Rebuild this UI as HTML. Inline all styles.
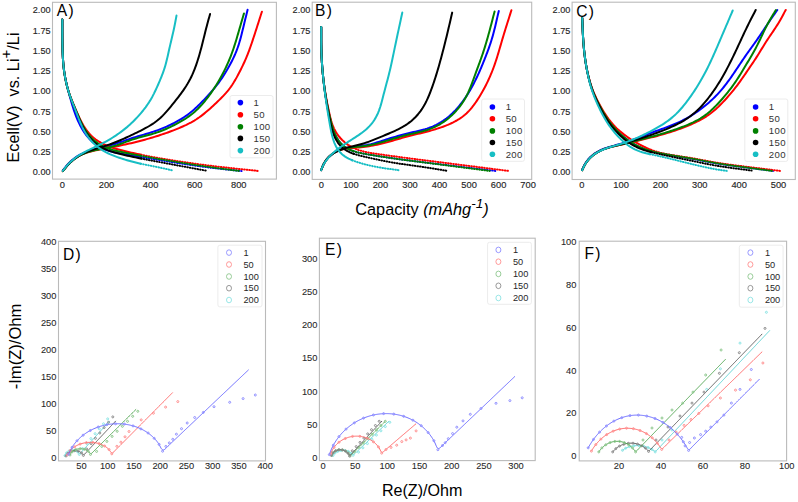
<!DOCTYPE html><html><head><meta charset="utf-8"><style>html,body{margin:0;padding:0;background:#fff;width:798px;height:502px;overflow:hidden}svg{display:block}</style></head><body>
<svg width="798" height="502" viewBox="0 0 798 502" font-family="&quot;Liberation Sans&quot;, sans-serif">
<rect x="52.5" y="2.3" width="223.9" height="176.8" fill="none" stroke="#bababa" stroke-width="1.1"/>
<rect x="312.2" y="2.2" width="219.5" height="177.2" fill="none" stroke="#bababa" stroke-width="1.1"/>
<rect x="572.1" y="2.2" width="223.2" height="177.3" fill="none" stroke="#bababa" stroke-width="1.1"/>
<text x="50.5" y="175.3" font-size="9.10" text-anchor="end" fill="#262626" stroke="#262626" stroke-width="0.15" >0.00</text>
<text x="50.5" y="155.0" font-size="9.10" text-anchor="end" fill="#262626" stroke="#262626" stroke-width="0.15" >0.25</text>
<text x="50.5" y="134.8" font-size="9.10" text-anchor="end" fill="#262626" stroke="#262626" stroke-width="0.15" >0.50</text>
<text x="50.5" y="114.5" font-size="9.10" text-anchor="end" fill="#262626" stroke="#262626" stroke-width="0.15" >0.75</text>
<text x="50.5" y="94.3" font-size="9.10" text-anchor="end" fill="#262626" stroke="#262626" stroke-width="0.15" >1.00</text>
<text x="50.5" y="74.0" font-size="9.10" text-anchor="end" fill="#262626" stroke="#262626" stroke-width="0.15" >1.25</text>
<text x="50.5" y="53.7" font-size="9.10" text-anchor="end" fill="#262626" stroke="#262626" stroke-width="0.15" >1.50</text>
<text x="50.5" y="33.5" font-size="9.10" text-anchor="end" fill="#262626" stroke="#262626" stroke-width="0.15" >1.75</text>
<text x="50.5" y="13.2" font-size="9.10" text-anchor="end" fill="#262626" stroke="#262626" stroke-width="0.15" >2.00</text>
<text x="310.3" y="175.3" font-size="9.10" text-anchor="end" fill="#262626" stroke="#262626" stroke-width="0.15" >0.00</text>
<text x="310.3" y="155.0" font-size="9.10" text-anchor="end" fill="#262626" stroke="#262626" stroke-width="0.15" >0.25</text>
<text x="310.3" y="134.8" font-size="9.10" text-anchor="end" fill="#262626" stroke="#262626" stroke-width="0.15" >0.50</text>
<text x="310.3" y="114.5" font-size="9.10" text-anchor="end" fill="#262626" stroke="#262626" stroke-width="0.15" >0.75</text>
<text x="310.3" y="94.3" font-size="9.10" text-anchor="end" fill="#262626" stroke="#262626" stroke-width="0.15" >1.00</text>
<text x="310.3" y="74.0" font-size="9.10" text-anchor="end" fill="#262626" stroke="#262626" stroke-width="0.15" >1.25</text>
<text x="310.3" y="53.7" font-size="9.10" text-anchor="end" fill="#262626" stroke="#262626" stroke-width="0.15" >1.50</text>
<text x="310.3" y="33.5" font-size="9.10" text-anchor="end" fill="#262626" stroke="#262626" stroke-width="0.15" >1.75</text>
<text x="310.3" y="13.2" font-size="9.10" text-anchor="end" fill="#262626" stroke="#262626" stroke-width="0.15" >2.00</text>
<text x="570.3" y="175.3" font-size="9.10" text-anchor="end" fill="#262626" stroke="#262626" stroke-width="0.15" >0.00</text>
<text x="570.3" y="155.0" font-size="9.10" text-anchor="end" fill="#262626" stroke="#262626" stroke-width="0.15" >0.25</text>
<text x="570.3" y="134.8" font-size="9.10" text-anchor="end" fill="#262626" stroke="#262626" stroke-width="0.15" >0.50</text>
<text x="570.3" y="114.5" font-size="9.10" text-anchor="end" fill="#262626" stroke="#262626" stroke-width="0.15" >0.75</text>
<text x="570.3" y="94.3" font-size="9.10" text-anchor="end" fill="#262626" stroke="#262626" stroke-width="0.15" >1.00</text>
<text x="570.3" y="74.0" font-size="9.10" text-anchor="end" fill="#262626" stroke="#262626" stroke-width="0.15" >1.25</text>
<text x="570.3" y="53.7" font-size="9.10" text-anchor="end" fill="#262626" stroke="#262626" stroke-width="0.15" >1.50</text>
<text x="570.3" y="33.5" font-size="9.10" text-anchor="end" fill="#262626" stroke="#262626" stroke-width="0.15" >1.75</text>
<text x="570.3" y="13.2" font-size="9.10" text-anchor="end" fill="#262626" stroke="#262626" stroke-width="0.15" >2.00</text>
<text x="62.4" y="188.2" font-size="9.30" text-anchor="middle" fill="#262626" stroke="#262626" stroke-width="0.15" >0</text>
<text x="106.5" y="188.2" font-size="9.30" text-anchor="middle" fill="#262626" stroke="#262626" stroke-width="0.15" >200</text>
<text x="150.6" y="188.2" font-size="9.30" text-anchor="middle" fill="#262626" stroke="#262626" stroke-width="0.15" >400</text>
<text x="194.7" y="188.2" font-size="9.30" text-anchor="middle" fill="#262626" stroke="#262626" stroke-width="0.15" >600</text>
<text x="238.8" y="188.2" font-size="9.30" text-anchor="middle" fill="#262626" stroke="#262626" stroke-width="0.15" >800</text>
<text x="321.3" y="188.2" font-size="9.30" text-anchor="middle" fill="#262626" stroke="#262626" stroke-width="0.15" >0</text>
<text x="350.9" y="188.2" font-size="9.30" text-anchor="middle" fill="#262626" stroke="#262626" stroke-width="0.15" >100</text>
<text x="380.4" y="188.2" font-size="9.30" text-anchor="middle" fill="#262626" stroke="#262626" stroke-width="0.15" >200</text>
<text x="410.0" y="188.2" font-size="9.30" text-anchor="middle" fill="#262626" stroke="#262626" stroke-width="0.15" >300</text>
<text x="439.5" y="188.2" font-size="9.30" text-anchor="middle" fill="#262626" stroke="#262626" stroke-width="0.15" >400</text>
<text x="469.1" y="188.2" font-size="9.30" text-anchor="middle" fill="#262626" stroke="#262626" stroke-width="0.15" >500</text>
<text x="498.6" y="188.2" font-size="9.30" text-anchor="middle" fill="#262626" stroke="#262626" stroke-width="0.15" >600</text>
<text x="528.1" y="188.2" font-size="9.30" text-anchor="middle" fill="#262626" stroke="#262626" stroke-width="0.15" >700</text>
<text x="581.8" y="188.2" font-size="9.30" text-anchor="middle" fill="#262626" stroke="#262626" stroke-width="0.15" >0</text>
<text x="621.1" y="188.2" font-size="9.30" text-anchor="middle" fill="#262626" stroke="#262626" stroke-width="0.15" >100</text>
<text x="660.5" y="188.2" font-size="9.30" text-anchor="middle" fill="#262626" stroke="#262626" stroke-width="0.15" >200</text>
<text x="699.8" y="188.2" font-size="9.30" text-anchor="middle" fill="#262626" stroke="#262626" stroke-width="0.15" >300</text>
<text x="739.2" y="188.2" font-size="9.30" text-anchor="middle" fill="#262626" stroke="#262626" stroke-width="0.15" >400</text>
<text x="778.5" y="188.2" font-size="9.30" text-anchor="middle" fill="#262626" stroke="#262626" stroke-width="0.15" >500</text>
<path d="M62.30,19.50 L62.32,21.51 L62.31,23.52 L62.31,25.53 L62.31,27.54 L62.31,29.55 L62.32,31.56 L62.33,33.57 L62.34,35.58 L62.35,37.59 L62.37,39.60 L62.40,41.61 L62.43,43.61 L62.47,45.62 L62.51,47.63 L62.56,49.64 L62.62,51.65 L62.70,53.66 L62.78,55.67 L62.88,57.68 L63.00,59.68 L63.14,61.69 L63.30,63.69 L63.48,65.69 L63.70,67.68 L63.94,69.68 L64.22,71.66 L64.52,73.65 L64.86,75.63 L65.22,77.60 L65.62,79.57 L66.03,81.54 L66.48,83.49 L66.94,85.45 L67.42,87.40 L67.91,89.35 L68.41,91.30 L68.93,93.24 L69.45,95.18 L69.99,97.12 L70.53,99.06 L71.08,100.99 L71.64,102.93 L72.21,104.85 L72.80,106.77 L73.41,108.69 L74.05,110.60 L74.70,112.50 L75.39,114.39 L76.11,116.27 L76.85,118.14 L77.64,119.99 L78.46,121.83 L79.32,123.64 L80.22,125.44 L81.17,127.22 L82.16,128.97 L83.20,130.69 L84.30,132.38 L85.45,134.03 L86.65,135.64 L87.91,137.20 L89.23,138.71 L90.62,140.15 L92.06,141.53 L93.56,142.84 L95.13,144.08 L96.75,145.23 L98.42,146.30 L100.15,147.28 L101.93,148.18 L103.75,148.99 L105.60,149.73 L107.49,150.39 L109.40,150.99 L111.34,151.53 L113.29,152.02 L115.26,152.48 L117.23,152.90 L119.21,153.29 L121.19,153.67 L123.17,154.03 L125.16,154.38 L127.14,154.72 L129.13,155.06 L131.11,155.39 L133.10,155.72 L135.08,156.05 L137.06,156.38 L139.04,156.71 L141.03,157.04" fill="none" stroke="#0000ff" stroke-width="2.00" stroke-linecap="round" stroke-linejoin="round"/>
<path d="M141.03,157.04 L143.01,157.37 L144.99,157.70 L146.97,158.03 L148.96,158.36 L150.94,158.68 L152.92,159.01 L154.90,159.34 L156.89,159.66 L158.87,159.99 L160.85,160.31 L162.84,160.63 L164.82,160.95 L166.80,161.27 L168.79,161.59 L170.77,161.91 L172.76,162.22 L174.74,162.53 L176.73,162.85 L178.71,163.16 L180.70,163.46 L182.68,163.77 L184.67,164.07 L186.66,164.37 L188.65,164.67 L190.63,164.96 L192.62,165.25 L194.61,165.54 L196.60,165.82 L198.59,166.10 L200.58,166.37 L202.57,166.63 L204.57,166.90 L206.56,167.15 L208.55,167.40 L210.55,167.65 L212.54,167.89 L214.54,168.12 L216.53,168.36 L218.53,168.58 L220.53,168.81 L222.52,169.03 L224.52,169.25 L226.52,169.47 L228.52,169.68 L230.51,169.90 L232.51,170.11 L234.51,170.33 L236.51,170.54 L238.51,170.76 L241.50,171.10" fill="none" stroke="#0000ff" stroke-width="2.0" stroke-linecap="round" stroke-dasharray="0.6,2.0"/>
<path d="M62.80,170.50 L64.05,168.95 L65.28,167.30 L66.57,165.71 L67.91,164.18 L69.30,162.71 L70.75,161.31 L72.26,159.98 L73.81,158.72 L75.42,157.54 L77.08,156.43 L78.78,155.40 L80.53,154.44 L82.31,153.56 L84.14,152.74 L85.99,152.00 L87.87,151.31 L89.78,150.68 L91.71,150.10 L93.65,149.57 L95.61,149.07 L97.57,148.59 L99.54,148.12 L101.50,147.65 L103.47,147.18 L105.42,146.69 L107.38,146.19 L109.32,145.66 L111.26,145.11 L113.19,144.53 L115.11,143.93 L117.02,143.31 L118.93,142.67 L120.83,142.01 L122.73,141.34 L124.63,140.67 L126.53,140.01 L128.43,139.35 L130.34,138.70 L132.25,138.07 L134.17,137.46 L136.10,136.87 L138.02,136.28 L139.96,135.72 L141.89,135.15 L143.83,134.60 L145.76,134.04 L147.70,133.47 L149.62,132.89 L151.55,132.29 L153.46,131.67 L155.37,131.03 L157.27,130.36 L159.16,129.66 L161.04,128.94 L162.91,128.19 L164.77,127.41 L166.61,126.60 L168.45,125.77 L170.27,124.91 L172.08,124.02 L173.88,123.10 L175.66,122.16 L177.42,121.19 L179.17,120.19 L180.90,119.16 L182.61,118.09 L184.30,116.99 L185.96,115.86 L187.60,114.69 L189.21,113.49 L190.79,112.25 L192.35,110.98 L193.88,109.67 L195.38,108.33 L196.86,106.97 L198.32,105.57 L199.75,104.16 L201.17,102.73 L202.57,101.28 L203.96,99.82 L205.34,98.35 L206.71,96.87 L208.07,95.38 L209.42,93.88 L210.76,92.37 L212.08,90.85 L213.39,89.32 L214.68,87.77 L215.95,86.21 L217.20,84.63 L218.42,83.03 L219.61,81.41 L220.78,79.77 L221.92,78.11 L223.03,76.43 L224.12,74.74 L225.19,73.03 L226.23,71.31 L227.26,69.57 L228.26,67.82 L229.24,66.06 L230.21,64.29 L231.15,62.50 L232.07,60.71 L232.96,58.90 L233.82,57.08 L234.66,55.25 L235.46,53.41 L236.22,51.55 L236.95,49.67 L237.64,47.78 L238.29,45.88 L238.91,43.97 L239.49,42.04 L240.05,40.11 L240.59,38.17 L241.11,36.22 L241.61,34.27 L242.09,32.31 L242.57,30.36 L243.05,28.40 L243.52,26.44 L243.99,24.48 L244.46,22.52 L244.94,20.56 L245.42,18.60 L245.90,16.64 L246.39,14.69 L246.87,12.73 L247.60,9.80" fill="none" stroke="#0000ff" stroke-width="2.00" stroke-linecap="round" stroke-linejoin="round" opacity="1"/>
<path d="M62.30,19.50 L62.32,21.51 L62.31,23.52 L62.31,25.53 L62.31,27.54 L62.31,29.55 L62.32,31.56 L62.33,33.57 L62.34,35.58 L62.35,37.59 L62.37,39.60 L62.40,41.61 L62.43,43.62 L62.47,45.63 L62.51,47.64 L62.56,49.65 L62.62,51.66 L62.70,53.67 L62.78,55.68 L62.88,57.68 L63.00,59.69 L63.14,61.69 L63.30,63.70 L63.48,65.70 L63.69,67.70 L63.93,69.69 L64.19,71.68 L64.48,73.67 L64.80,75.66 L65.15,77.64 L65.53,79.61 L65.94,81.58 L66.38,83.54 L66.86,85.49 L67.37,87.43 L67.93,89.36 L68.51,91.27 L69.14,93.18 L69.80,95.07 L70.50,96.95 L71.22,98.82 L71.97,100.69 L72.74,102.55 L73.53,104.40 L74.32,106.25 L75.12,108.10 L75.92,109.94 L76.73,111.79 L77.55,113.63 L78.38,115.47 L79.22,117.30 L80.09,119.12 L80.98,120.92 L81.91,122.71 L82.88,124.47 L83.90,126.21 L84.97,127.90 L86.10,129.56 L87.29,131.17 L88.55,132.72 L89.87,134.22 L91.25,135.65 L92.70,137.01 L94.22,138.30 L95.79,139.51 L97.42,140.65 L99.11,141.72 L100.84,142.72 L102.61,143.65 L104.42,144.52 L106.26,145.33 L108.13,146.08 L110.01,146.79 L111.91,147.45 L113.83,148.08 L115.76,148.67 L117.69,149.23 L119.63,149.76 L121.58,150.28 L123.53,150.77 L125.49,151.25 L127.44,151.72 L129.40,152.17 L131.37,152.62 L133.33,153.06 L135.29,153.49 L137.26,153.92 L139.22,154.33 L141.19,154.74" fill="none" stroke="#ff0000" stroke-width="2.00" stroke-linecap="round" stroke-linejoin="round"/>
<path d="M141.19,154.74 L143.16,155.15 L145.13,155.54 L147.10,155.93 L149.08,156.32 L151.05,156.69 L153.03,157.06 L155.00,157.42 L156.98,157.77 L158.96,158.12 L160.94,158.46 L162.92,158.80 L164.91,159.13 L166.89,159.45 L168.87,159.77 L170.86,160.09 L172.84,160.40 L174.83,160.71 L176.82,161.02 L178.80,161.32 L180.79,161.62 L182.78,161.92 L184.77,162.21 L186.75,162.51 L188.74,162.80 L190.73,163.09 L192.72,163.38 L194.71,163.66 L196.70,163.94 L198.69,164.22 L200.68,164.49 L202.67,164.76 L204.67,165.02 L206.66,165.28 L208.65,165.53 L210.65,165.78 L212.64,166.02 L214.64,166.26 L216.64,166.49 L218.63,166.72 L220.63,166.94 L222.63,167.16 L224.63,167.38 L226.62,167.60 L228.62,167.82 L230.62,168.03 L232.62,168.24 L234.62,168.46 L236.62,168.67 L238.61,168.88 L240.61,169.09 L242.61,169.30 L244.61,169.51 L246.61,169.72 L248.61,169.93 L250.61,170.14 L252.61,170.36 L254.60,170.57 L256.60,170.78 L259.60,171.10" fill="none" stroke="#ff0000" stroke-width="2.0" stroke-linecap="round" stroke-dasharray="0.6,2.0"/>
<path d="M62.80,171.20 L64.06,169.66 L65.30,168.03 L66.58,166.44 L67.92,164.92 L69.32,163.45 L70.77,162.05 L72.27,160.72 L73.83,159.46 L75.43,158.28 L77.09,157.18 L78.79,156.16 L80.54,155.22 L82.33,154.36 L84.15,153.58 L86.01,152.88 L87.90,152.24 L89.81,151.68 L91.75,151.17 L93.71,150.71 L95.68,150.30 L97.66,149.91 L99.64,149.55 L101.62,149.19 L103.61,148.84 L105.59,148.48 L107.57,148.12 L109.54,147.75 L111.52,147.36 L113.49,146.97 L115.46,146.56 L117.42,146.15 L119.39,145.74 L121.35,145.32 L123.32,144.89 L125.28,144.47 L127.24,144.03 L129.20,143.59 L131.16,143.15 L133.12,142.69 L135.07,142.22 L137.02,141.74 L138.97,141.24 L140.91,140.74 L142.85,140.22 L144.79,139.69 L146.73,139.15 L148.66,138.60 L150.59,138.04 L152.51,137.47 L154.44,136.88 L156.36,136.29 L158.27,135.68 L160.18,135.06 L162.09,134.42 L163.99,133.78 L165.89,133.11 L167.78,132.44 L169.67,131.75 L171.55,131.04 L173.43,130.32 L175.30,129.59 L177.17,128.84 L179.03,128.07 L180.88,127.29 L182.72,126.48 L184.55,125.65 L186.37,124.80 L189.07,123.46 L190.84,122.53 L192.60,121.55 L194.33,120.54 L196.03,119.49 L197.71,118.39 L199.36,117.26 L200.98,116.08 L202.58,114.87 L204.15,113.63 L205.70,112.35 L207.24,111.05 L208.75,109.73 L210.26,108.40 L211.75,107.05 L213.24,105.69 L214.71,104.32 L216.18,102.94 L217.64,101.55 L219.09,100.15 L220.52,98.74 L221.94,97.32 L223.34,95.87 L224.70,94.40 L226.04,92.91 L227.34,91.39 L228.60,89.83 L229.81,88.24 L230.99,86.63 L232.12,84.98 L233.21,83.30 L234.26,81.59 L235.29,79.87 L236.28,78.12 L237.25,76.36 L238.20,74.59 L239.13,72.80 L240.05,71.01 L240.95,69.22 L241.84,67.41 L242.72,65.60 L243.57,63.78 L244.41,61.96 L245.23,60.12 L246.03,58.28 L246.81,56.43 L247.56,54.57 L248.29,52.70 L249.01,50.82 L249.70,48.93 L250.37,47.04 L251.03,45.14 L251.69,43.24 L252.33,41.34 L252.96,39.43 L253.59,37.52 L254.22,35.61 L254.84,33.70 L255.46,31.79 L256.08,29.88 L256.70,27.97 L257.31,26.05 L257.93,24.14 L258.54,22.23 L259.15,20.31 L259.77,18.40 L260.37,16.49 L260.98,14.57 L261.90,11.70" fill="none" stroke="#ff0000" stroke-width="2.00" stroke-linecap="round" stroke-linejoin="round" opacity="1"/>
<path d="M62.30,19.50 L62.32,21.51 L62.31,23.52 L62.31,25.53 L62.31,27.54 L62.31,29.55 L62.32,31.56 L62.33,33.57 L62.34,35.58 L62.35,37.59 L62.37,39.61 L62.40,41.62 L62.43,43.63 L62.47,45.64 L62.51,47.65 L62.56,49.66 L62.62,51.67 L62.70,53.68 L62.78,55.69 L62.88,57.69 L63.00,59.70 L63.14,61.71 L63.30,63.71 L63.48,65.71 L63.69,67.71 L63.93,69.71 L64.19,71.70 L64.49,73.69 L64.81,75.67 L65.16,77.65 L65.54,79.62 L65.95,81.59 L66.40,83.55 L66.87,85.50 L67.38,87.45 L67.93,89.38 L68.51,91.30 L69.13,93.21 L69.78,95.11 L70.46,97.00 L71.17,98.87 L71.90,100.75 L72.65,102.61 L73.41,104.47 L74.19,106.33 L74.96,108.19 L75.75,110.04 L76.53,111.90 L77.32,113.75 L78.11,115.60 L78.92,117.45 L79.74,119.29 L80.59,121.11 L81.47,122.93 L82.38,124.72 L83.33,126.49 L84.34,128.23 L85.39,129.95 L86.50,131.62 L87.67,133.26 L88.89,134.85 L90.18,136.38 L91.53,137.86 L92.94,139.28 L94.41,140.63 L95.95,141.90 L97.54,143.09 L99.19,144.20 L100.90,145.22 L103.55,146.60 L105.37,147.41 L107.22,148.15 L109.11,148.81 L111.03,149.42 L112.96,149.98 L114.91,150.49 L116.87,150.97 L118.84,151.42 L120.81,151.85 L122.78,152.27 L124.76,152.68 L126.73,153.08 L128.71,153.47 L130.68,153.86 L132.66,154.25 L134.63,154.63 L136.61,155.01 L138.59,155.38 L140.56,155.74" fill="none" stroke="#008000" stroke-width="2.00" stroke-linecap="round" stroke-linejoin="round"/>
<path d="M140.56,155.74 L142.54,156.10 L144.52,156.46 L146.50,156.82 L148.48,157.17 L150.46,157.52 L152.44,157.86 L154.42,158.21 L156.40,158.55 L158.38,158.89 L160.36,159.23 L162.34,159.57 L164.33,159.91 L166.31,160.24 L168.29,160.58 L170.27,160.91 L172.26,161.24 L174.24,161.57 L176.22,161.90 L178.21,162.23 L180.19,162.56 L182.17,162.88 L184.16,163.20 L186.14,163.53 L188.13,163.84 L190.11,164.16 L192.10,164.48 L194.08,164.79 L196.07,165.09 L198.06,165.40 L200.05,165.70 L202.03,165.99 L204.02,166.29 L206.01,166.57 L208.00,166.86 L209.99,167.13 L211.99,167.41 L213.98,167.68 L215.97,167.95 L217.96,168.21 L219.96,168.47 L221.95,168.73 L223.94,168.99 L225.94,169.24 L227.93,169.49 L229.93,169.75 L231.92,170.00 L233.92,170.25 L235.91,170.51 L238.90,170.90" fill="none" stroke="#008000" stroke-width="2.0" stroke-linecap="round" stroke-dasharray="0.6,2.0"/>
<path d="M62.80,171.20 L64.06,169.66 L65.29,168.03 L66.58,166.45 L67.93,164.93 L69.32,163.47 L70.77,162.07 L72.27,160.74 L73.83,159.49 L75.43,158.30 L77.08,157.19 L78.78,156.16 L80.52,155.21 L82.30,154.33 L84.11,153.52 L85.97,152.80 L87.85,152.13 L89.75,151.54 L91.68,151.00 L93.63,150.52 L95.60,150.09 L97.57,149.68 L99.55,149.29 L101.53,148.91 L103.50,148.53 L105.48,148.13 L107.44,147.71 L109.40,147.26 L111.34,146.78 L113.27,146.25 L115.19,145.69 L117.10,145.08 L119.00,144.44 L120.88,143.77 L122.76,143.08 L124.64,142.37 L126.51,141.67 L128.39,140.98 L130.28,140.30 L132.17,139.65 L134.07,139.03 L135.99,138.43 L137.91,137.87 L139.84,137.33 L141.78,136.81 L143.72,136.30 L145.67,135.79 L147.61,135.28 L149.55,134.76 L151.48,134.21 L153.40,133.64 L155.32,133.04 L157.22,132.41 L159.11,131.74 L160.99,131.03 L162.85,130.29 L164.70,129.52 L166.54,128.72 L168.37,127.89 L170.19,127.04 L172.00,126.16 L173.80,125.26 L175.59,124.34 L177.36,123.39 L180.00,121.94 L181.75,120.93 L183.47,119.90 L185.17,118.84 L186.85,117.74 L188.50,116.60 L190.12,115.43 L191.71,114.21 L193.27,112.95 L194.79,111.65 L196.28,110.31 L197.73,108.93 L199.15,107.51 L200.53,106.06 L201.89,104.58 L203.21,103.07 L204.50,101.53 L205.77,99.97 L207.01,98.39 L208.23,96.79 L209.43,95.18 L210.60,93.55 L211.75,91.90 L212.89,90.24 L214.00,88.57 L215.09,86.88 L216.17,85.19 L217.22,83.48 L218.26,81.76 L219.28,80.02 L220.27,78.28 L221.25,76.53 L222.20,74.76 L223.13,72.98 L224.05,71.19 L224.94,69.39 L225.81,67.58 L226.66,65.76 L227.49,63.94 L228.30,62.10 L229.09,60.25 L229.86,58.40 L230.60,56.53 L231.33,54.66 L232.02,52.78 L232.70,50.89 L233.36,48.99 L233.99,47.09 L234.61,45.18 L235.22,43.27 L235.81,41.35 L236.39,39.42 L236.96,37.50 L237.53,35.57 L238.09,33.64 L238.65,31.71 L239.21,29.78 L239.77,27.86 L240.33,25.93 L240.89,24.00 L241.45,22.07 L242.02,20.14 L242.58,18.22 L243.15,16.29 L244.00,13.40" fill="none" stroke="#008000" stroke-width="2.00" stroke-linecap="round" stroke-linejoin="round" opacity="1"/>
<path d="M62.30,19.50 L62.32,21.52 L62.31,23.53 L62.31,25.55 L62.31,27.57 L62.31,29.58 L62.32,31.60 L62.33,33.62 L62.34,35.63 L62.35,37.65 L62.37,39.66 L62.40,41.68 L62.43,43.70 L62.47,45.71 L62.51,47.73 L62.57,49.75 L62.63,51.76 L62.70,53.78 L62.79,55.79 L62.89,57.81 L63.01,59.82 L63.15,61.83 L63.31,63.84 L63.50,65.85 L63.71,67.85 L63.95,69.85 L64.22,71.85 L64.52,73.84 L64.85,75.83 L65.21,77.82 L65.59,79.79 L66.01,81.77 L66.45,83.73 L66.93,85.69 L67.44,87.64 L67.97,89.58 L68.55,91.52 L69.15,93.44 L69.78,95.35 L70.44,97.25 L71.13,99.14 L71.85,101.03 L72.58,102.91 L73.32,104.78 L74.08,106.65 L74.84,108.52 L75.61,110.39 L76.38,112.26 L77.15,114.12 L77.92,115.99 L78.71,117.85 L79.50,119.71 L80.31,121.56 L81.15,123.40 L82.02,125.23 L82.92,127.03 L83.87,128.82 L84.86,130.57 L85.91,132.29 L87.01,133.98 L88.18,135.61 L90.06,137.97 L91.39,139.46 L92.79,140.89 L94.25,142.25 L95.78,143.54 L97.38,144.74 L99.03,145.86 L100.73,146.91 L102.48,147.87 L104.28,148.76 L106.12,149.57 L107.99,150.32 L109.88,151.00 L111.80,151.64 L113.73,152.23 L115.68,152.78 L117.63,153.31 L119.59,153.81 L121.56,154.29 L123.52,154.76 L125.49,155.22 L127.46,155.66 L129.43,156.10 L131.41,156.53 L133.38,156.96 L135.35,157.38 L137.33,157.79 L139.30,158.20 L141.28,158.60" fill="none" stroke="#000000" stroke-width="2.00" stroke-linecap="round" stroke-linejoin="round"/>
<path d="M141.28,158.60 L143.25,158.99 L145.23,159.38 L147.21,159.76 L149.19,160.14 L151.17,160.52 L153.16,160.89 L155.14,161.26 L157.12,161.63 L159.10,161.99 L161.09,162.36 L163.07,162.72 L165.05,163.09 L167.04,163.46 L169.02,163.82 L171.00,164.19 L172.98,164.56 L174.97,164.93 L176.95,165.30 L178.93,165.66 L180.91,166.03 L182.90,166.40 L184.88,166.77 L186.86,167.13 L188.84,167.50 L190.83,167.86 L192.81,168.23 L194.79,168.59 L196.78,168.96 L198.76,169.32 L200.74,169.69 L202.73,170.05 L205.70,170.60" fill="none" stroke="#000000" stroke-width="2.0" stroke-linecap="round" stroke-dasharray="0.6,2.0"/>
<path d="M62.80,170.90 L64.10,169.38 L65.38,167.78 L66.70,166.23 L68.07,164.72 L69.49,163.27 L70.95,161.88 L72.46,160.55 L74.02,159.28 L75.62,158.08 L77.27,156.94 L78.95,155.87 L80.68,154.86 L82.45,153.93 L84.25,153.05 L86.08,152.24 L87.93,151.48 L89.82,150.76 L91.72,150.10 L93.64,149.47 L95.57,148.87 L97.50,148.28 L99.44,147.70 L101.37,147.11 L103.30,146.52 L105.23,145.91 L107.15,145.28 L109.05,144.63 L110.95,143.95 L112.84,143.25 L114.72,142.52 L116.59,141.77 L118.46,141.00 L120.31,140.21 L122.16,139.41 L124.01,138.59 L125.84,137.76 L127.68,136.91 L129.51,136.06 L131.34,135.20 L133.16,134.34 L134.98,133.46 L136.80,132.58 L138.61,131.68 L140.42,130.78 L142.22,129.87 L144.01,128.93 L145.79,127.98 L147.56,127.00 L149.30,125.99 L151.02,124.95 L152.71,123.86 L154.37,122.73 L155.99,121.55 L157.57,120.31 L159.10,119.03 L160.60,117.69 L162.76,115.60 L164.16,114.16 L165.53,112.68 L166.88,111.17 L168.20,109.65 L169.50,108.10 L170.79,106.55 L172.07,104.98 L173.34,103.41 L174.60,101.83 L175.86,100.24 L177.11,98.65 L178.34,97.06 L179.57,95.45 L180.78,93.83 L181.97,92.20 L183.14,90.56 L184.28,88.90 L185.40,87.22 L186.49,85.53 L187.54,83.81 L188.55,82.07 L189.52,80.31 L190.46,78.53 L191.35,76.72 L192.20,74.90 L193.01,73.06 L193.79,71.20 L194.54,69.32 L195.25,67.44 L195.94,65.54 L196.60,63.63 L197.24,61.72 L197.86,59.80 L198.46,57.87 L199.04,55.94 L199.60,54.00 L200.15,52.06 L200.68,50.11 L201.20,48.16 L201.71,46.21 L202.21,44.25 L202.70,42.30 L203.19,40.34 L203.67,38.38 L204.16,36.42 L204.64,34.46 L205.12,32.50 L205.61,30.55 L206.11,28.59 L206.61,26.64 L207.13,24.69 L207.65,22.74 L208.18,20.80 L208.73,18.85 L209.28,16.91 L210.10,14.00" fill="none" stroke="#000000" stroke-width="2.00" stroke-linecap="round" stroke-linejoin="round" opacity="1"/>
<path d="M62.30,19.50 L62.32,21.52 L62.31,23.54 L62.31,25.55 L62.31,27.57 L62.31,29.59 L62.32,31.61 L62.33,33.62 L62.34,35.64 L62.35,37.66 L62.37,39.68 L62.40,41.69 L62.43,43.71 L62.47,45.73 L62.51,47.75 L62.57,49.77 L62.63,51.78 L62.70,53.80 L62.79,55.81 L62.89,57.83 L63.01,59.84 L63.15,61.86 L63.31,63.87 L63.50,65.87 L63.71,67.88 L63.96,69.88 L64.23,71.88 L64.53,73.87 L64.85,75.86 L65.21,77.85 L65.60,79.83 L66.02,81.80 L66.46,83.77 L66.94,85.73 L67.45,87.68 L67.99,89.62 L68.57,91.55 L69.18,93.47 L69.81,95.39 L70.48,97.29 L71.17,99.18 L71.88,101.07 L72.60,102.95 L73.33,104.83 L74.07,106.71 L74.81,108.59 L75.54,110.47 L76.27,112.35 L77.00,114.23 L77.73,116.12 L78.46,118.00 L79.21,119.88 L79.97,121.75 L81.17,124.53 L82.01,126.36 L82.90,128.18 L83.83,129.96 L84.81,131.72 L85.84,133.45 L86.93,135.15 L88.08,136.80 L89.29,138.41 L90.55,139.97 L91.88,141.48 L93.26,142.94 L94.71,144.33 L96.20,145.67 L97.76,146.94 L99.36,148.15 L101.01,149.30 L102.70,150.38 L104.43,151.40 L106.20,152.35 L108.01,153.25 L109.83,154.10 L111.69,154.90 L113.56,155.66 L115.45,156.38 L117.35,157.07 L119.26,157.74 L121.18,158.38 L123.10,159.00 L125.03,159.60 L126.96,160.18 L128.90,160.75 L130.85,161.29 L132.80,161.81 L134.75,162.31 L136.71,162.79 L138.67,163.25 L140.64,163.69" fill="none" stroke="#17bec4" stroke-width="2.00" stroke-linecap="round" stroke-linejoin="round"/>
<path d="M140.64,163.69 L142.61,164.11 L144.58,164.53 L146.56,164.93 L148.54,165.32 L150.52,165.71 L152.50,166.10 L154.48,166.50 L156.46,166.89 L158.43,167.30 L160.41,167.71 L162.38,168.14 L164.35,168.57 L166.32,169.01 L168.29,169.47 L170.25,169.93 L173.20,170.60" fill="none" stroke="#17bec4" stroke-width="2.0" stroke-linecap="round" stroke-dasharray="0.6,2.0"/>
<path d="M62.80,170.90 L64.04,169.33 L65.27,167.70 L66.55,166.13 L67.89,164.62 L69.28,163.16 L70.72,161.76 L72.21,160.43 L73.75,159.14 L75.33,157.92 L76.95,156.75 L78.61,155.63 L80.30,154.56 L82.02,153.54 L83.77,152.55 L85.54,151.60 L87.33,150.68 L89.13,149.78 L90.95,148.90 L92.77,148.04 L94.60,147.18 L96.42,146.31 L98.23,145.44 L100.04,144.55 L101.84,143.65 L103.63,142.72 L105.41,141.77 L107.17,140.80 L108.91,139.80 L110.65,138.78 L112.36,137.73 L114.07,136.65 L115.75,135.55 L117.42,134.42 L119.07,133.27 L120.71,132.09 L122.32,130.89 L123.91,129.66 L125.48,128.40 L127.03,127.12 L128.55,125.80 L130.05,124.46 L131.52,123.09 L132.97,121.69 L134.39,120.27 L135.80,118.82 L137.18,117.35 L138.53,115.86 L139.87,114.35 L141.18,112.82 L143.10,110.49 L144.34,108.90 L145.56,107.30 L146.74,105.67 L147.88,104.02 L148.99,102.34 L150.06,100.64 L151.08,98.92 L152.07,97.17 L153.02,95.40 L153.94,93.61 L154.82,91.80 L155.69,89.98 L156.53,88.15 L157.35,86.32 L158.17,84.47 L158.97,82.62 L159.76,80.77 L160.54,78.91 L161.30,77.04 L162.04,75.17 L162.75,73.29 L163.44,71.40 L164.09,69.50 L164.70,67.59 L165.28,65.67 L165.82,63.74 L166.33,61.80 L166.82,59.84 L167.28,57.89 L167.73,55.93 L168.17,53.96 L168.60,51.99 L169.04,50.03 L169.49,48.06 L169.94,46.10 L170.40,44.14 L170.86,42.18 L171.32,40.22 L171.78,38.26 L172.24,36.30 L172.70,34.34 L173.15,32.38 L173.58,30.42 L174.01,28.45 L174.42,26.48 L174.82,24.50 L175.21,22.53 L175.58,20.55 L175.94,18.57 L176.50,15.60" fill="none" stroke="#17bec4" stroke-width="2.00" stroke-linecap="round" stroke-linejoin="round" opacity="1"/>
<path d="M321.20,27.00 L321.23,29.01 L321.23,31.02 L321.23,33.03 L321.23,35.03 L321.23,37.04 L321.23,39.05 L321.24,41.06 L321.25,43.07 L321.28,45.08 L321.31,47.09 L321.35,49.09 L321.40,51.10 L321.46,53.11 L321.53,55.12 L321.62,57.12 L321.72,59.13 L321.83,61.13 L321.95,63.14 L322.09,65.14 L322.24,67.14 L322.40,69.15 L322.57,71.15 L322.76,73.15 L322.95,75.15 L323.15,77.15 L323.37,79.14 L323.59,81.14 L323.82,83.13 L324.07,85.13 L324.32,87.12 L324.59,89.11 L324.87,91.10 L325.16,93.09 L325.46,95.07 L325.78,97.05 L326.12,99.03 L326.47,101.01 L326.83,102.99 L327.21,104.96 L327.60,106.93 L328.00,108.90 L328.42,110.87 L328.84,112.84 L329.28,114.80 L329.72,116.77 L330.18,118.73 L330.66,120.69 L331.16,122.65 L331.68,124.61 L332.24,126.56 L332.84,128.49 L333.48,130.41 L334.18,132.30 L334.95,134.16 L335.80,135.98 L336.73,137.74 L337.75,139.44 L338.87,141.06 L340.09,142.59 L341.42,144.02 L342.84,145.35 L344.36,146.56 L345.98,147.67 L347.67,148.66 L349.44,149.55 L351.26,150.34 L353.14,151.03" fill="none" stroke="#0000ff" stroke-width="2.00" stroke-linecap="round" stroke-linejoin="round"/>
<path d="M353.14,151.03 L355.05,151.65 L356.99,152.20 L358.95,152.69 L360.93,153.13 L362.91,153.53 L364.90,153.91 L366.90,154.26 L368.89,154.60 L370.88,154.93 L372.87,155.25 L374.85,155.57 L376.84,155.89 L378.83,156.20 L380.81,156.52 L382.80,156.82 L384.78,157.13 L386.77,157.43 L388.76,157.72 L390.75,158.01 L392.73,158.30 L394.72,158.58 L396.71,158.86 L398.70,159.13 L400.69,159.40 L402.68,159.66 L404.67,159.92 L406.67,160.18 L408.66,160.43 L410.65,160.69 L412.64,160.94 L414.64,161.19 L416.63,161.43 L418.62,161.68 L420.62,161.93 L422.61,162.17 L424.60,162.42 L426.60,162.66 L428.59,162.91 L430.59,163.15 L432.58,163.39 L434.57,163.64 L436.57,163.88 L438.56,164.13 L440.55,164.37 L442.55,164.61 L444.54,164.85 L446.53,165.10 L448.53,165.34 L450.52,165.58 L452.52,165.82 L454.51,166.06 L456.51,166.30 L458.50,166.53 L460.49,166.77 L462.49,167.01 L464.48,167.25 L466.48,167.48 L468.47,167.72 L470.47,167.95 L472.46,168.19 L474.46,168.42 L476.45,168.66 L478.45,168.90 L480.44,169.13 L482.44,169.37 L484.43,169.60 L486.42,169.84 L488.42,170.07 L490.41,170.31 L492.41,170.54 L495.40,170.90" fill="none" stroke="#0000ff" stroke-width="2.0" stroke-linecap="round" stroke-dasharray="0.6,2.0"/>
<path d="M321.10,170.20 L321.87,168.39 L322.61,166.41 L323.47,164.52 L324.44,162.72 L325.51,161.01 L326.69,159.40 L327.98,157.89 L329.36,156.48 L330.83,155.18 L332.38,153.98 L334.01,152.88 L335.70,151.89 L337.46,150.99 L339.27,150.19 L341.13,149.49 L343.02,148.87 L344.94,148.34 L346.90,147.88 L348.88,147.50 L350.88,147.17 L352.88,146.88 L354.88,146.63 L356.89,146.38 L358.89,146.14 L360.89,145.89 L362.89,145.61 L364.87,145.30 L366.85,144.96 L368.82,144.56 L370.77,144.13 L372.72,143.65 L374.66,143.13 L376.59,142.57 L378.51,141.99 L380.43,141.39 L382.34,140.77 L384.26,140.15 L386.17,139.53 L388.09,138.92 L390.01,138.32 L391.93,137.73 L393.86,137.16 L395.79,136.59 L397.72,136.04 L399.66,135.51 L401.60,134.98 L403.54,134.47 L405.49,133.96 L407.44,133.47 L409.39,132.99 L411.35,132.53 L413.31,132.07 L415.27,131.62 L417.23,131.17 L419.19,130.72 L421.14,130.24 L423.09,129.74 L425.02,129.21 L426.94,128.63 L428.84,127.99 L430.72,127.30 L432.57,126.56 L434.40,125.75 L436.20,124.87 L437.98,123.94 L439.72,122.95 L441.43,121.90 L443.11,120.80 L444.76,119.64 L446.37,118.44 L447.94,117.19 L449.48,115.89 L450.98,114.56 L452.45,113.19 L453.88,111.77 L455.28,110.33 L456.65,108.85 L457.98,107.35 L459.29,105.81 L460.56,104.25 L461.80,102.67 L463.01,101.06 L464.18,99.43 L465.33,97.78 L466.45,96.11 L467.54,94.42 L468.60,92.71 L469.64,90.98 L470.65,89.24 L471.63,87.49 L472.59,85.72 L473.54,83.94 L474.46,82.15 L475.36,80.36 L476.24,78.55 L477.11,76.73 L477.96,74.91 L478.79,73.08 L479.61,71.24 L480.41,69.40 L481.20,67.55 L481.98,65.69 L482.75,63.83 L483.51,61.97 L484.26,60.10 L485.00,58.23 L485.74,56.36 L486.46,54.48 L487.18,52.60 L487.88,50.72 L488.57,48.83 L489.24,46.93 L489.89,45.03 L490.53,43.12 L491.14,41.21 L491.73,39.29 L492.31,37.36 L492.86,35.43 L493.39,33.49 L493.91,31.55 L494.41,29.60 L494.89,27.65 L495.37,25.69 L495.83,23.74 L496.29,21.78 L496.74,19.81 L497.18,17.85 L497.63,15.89 L498.08,13.93 L498.80,11.00" fill="none" stroke="#0000ff" stroke-width="2.00" stroke-linecap="round" stroke-linejoin="round" opacity="1"/>
<path d="M321.20,27.00 L321.23,29.01 L321.23,31.03 L321.23,33.04 L321.23,35.05 L321.23,37.06 L321.23,39.08 L321.24,41.09 L321.26,43.10 L321.28,45.12 L321.31,47.13 L321.35,49.14 L321.40,51.15 L321.46,53.17 L321.53,55.18 L321.61,57.19 L321.71,59.20 L321.82,61.21 L321.94,63.22 L322.08,65.22 L322.22,67.23 L322.39,69.24 L322.56,71.24 L322.75,73.25 L322.95,75.25 L323.16,77.25 L323.39,79.25 L323.63,81.25 L323.88,83.25 L324.15,85.24 L324.44,87.23 L324.73,89.22 L325.05,91.21 L325.38,93.20 L325.72,95.18 L326.07,97.16 L326.44,99.14 L326.82,101.12 L327.21,103.10 L327.60,105.08 L328.01,107.05 L328.41,109.03 L328.83,111.01 L329.26,112.99 L329.70,114.96 L330.16,116.93 L330.66,118.89 L331.19,120.83 L331.78,122.75 L332.42,124.64 L333.14,126.51 L333.94,128.33 L334.82,130.11 L335.79,131.85 L336.85,133.54 L338.00,135.17 L339.23,136.75 L340.54,138.26 L341.92,139.72 L343.37,141.11 L344.88,142.43 L346.46,143.68 L348.08,144.86 L349.76,145.95 L351.49,146.95 L353.26,147.87" fill="none" stroke="#ff0000" stroke-width="2.00" stroke-linecap="round" stroke-linejoin="round"/>
<path d="M353.26,147.87 L355.07,148.71 L356.92,149.46 L358.80,150.13 L360.71,150.72 L362.65,151.25 L365.59,151.94 L367.57,152.35 L369.55,152.72 L371.54,153.07 L373.54,153.39 L375.54,153.70 L377.53,154.00 L379.53,154.29 L381.53,154.57 L383.52,154.86 L385.52,155.13 L387.51,155.41 L389.51,155.68 L391.50,155.95 L393.50,156.22 L395.49,156.49 L397.49,156.76 L399.48,157.03 L401.48,157.29 L403.47,157.55 L405.47,157.82 L407.47,158.08 L409.46,158.34 L411.46,158.60 L413.45,158.85 L415.45,159.11 L417.45,159.37 L419.44,159.62 L421.44,159.87 L423.44,160.13 L425.43,160.38 L427.43,160.63 L429.43,160.89 L431.42,161.14 L433.42,161.39 L435.42,161.65 L437.41,161.90 L439.41,162.15 L441.41,162.41 L443.40,162.66 L445.40,162.92 L447.40,163.17 L449.39,163.42 L451.39,163.68 L453.39,163.93 L455.38,164.19 L457.38,164.44 L459.38,164.70 L461.37,164.95 L463.37,165.21 L465.37,165.46 L467.36,165.71 L469.36,165.97 L471.36,166.22 L473.36,166.47 L475.35,166.73 L477.35,166.98 L479.35,167.23 L481.34,167.49 L483.34,167.74 L485.34,167.99 L487.33,168.24 L489.33,168.50 L491.33,168.75 L493.32,169.00 L495.32,169.26 L497.32,169.51 L499.31,169.76 L501.31,170.01 L503.31,170.27 L505.30,170.52 L508.30,170.90" fill="none" stroke="#ff0000" stroke-width="2.0" stroke-linecap="round" stroke-dasharray="0.6,2.0"/>
<path d="M321.10,170.20 L321.87,168.40 L322.61,166.41 L323.47,164.51 L324.43,162.69 L325.50,160.96 L326.68,159.33 L327.97,157.81 L329.35,156.40 L330.82,155.11 L332.38,153.93 L334.02,152.87 L335.73,151.92 L337.51,151.10 L339.34,150.38 L341.21,149.77 L343.13,149.26 L345.07,148.85 L347.05,148.52 L349.05,148.26 L351.06,148.05 L353.08,147.88 L355.09,147.73 L357.11,147.58 L359.12,147.42 L361.13,147.24 L363.13,147.03 L365.13,146.79 L367.12,146.52 L369.11,146.21 L371.09,145.88 L373.07,145.51 L375.05,145.12 L377.02,144.71 L378.98,144.28 L380.95,143.83 L382.90,143.36 L384.85,142.86 L386.80,142.35 L388.74,141.82 L390.67,141.28 L392.60,140.72 L394.53,140.15 L396.46,139.58 L398.38,139.00 L400.31,138.43 L402.24,137.87 L404.18,137.32 L406.12,136.79 L408.06,136.28 L410.01,135.78 L411.96,135.29 L413.91,134.81 L415.87,134.34 L417.83,133.87 L419.79,133.41 L421.74,132.93 L423.70,132.45 L425.65,131.96 L427.60,131.46 L429.55,130.94 L431.49,130.40 L433.42,129.84 L435.35,129.27 L437.27,128.67 L439.19,128.05 L441.10,127.40 L442.99,126.72 L445.82,125.65 L447.69,124.90 L449.55,124.10 L451.38,123.27 L453.20,122.40 L454.98,121.47 L456.74,120.50 L458.47,119.48 L460.15,118.39 L461.79,117.25 L463.38,116.04 L464.92,114.77 L466.41,113.44 L467.85,112.06 L469.23,110.61 L470.56,109.12 L471.85,107.57 L473.09,105.99 L474.29,104.38 L475.46,102.74 L476.60,101.07 L477.71,99.39 L478.80,97.69 L479.86,95.97 L480.90,94.24 L481.91,92.50 L482.90,90.75 L483.88,88.98 L484.83,87.21 L485.75,85.42 L486.66,83.62 L487.54,81.82 L488.40,80.00 L489.24,78.17 L490.06,76.33 L490.85,74.48 L491.62,72.62 L492.37,70.75 L493.09,68.87 L493.79,66.99 L494.47,65.09 L495.13,63.19 L495.77,61.29 L496.39,59.37 L497.00,57.45 L497.59,55.53 L498.17,53.60 L498.74,51.67 L499.31,49.74 L499.88,47.81 L500.44,45.88 L501.00,43.95 L501.57,42.01 L502.13,40.08 L502.70,38.15 L503.28,36.22 L503.86,34.30 L504.44,32.37 L505.03,30.45 L505.62,28.52 L506.22,26.60 L506.82,24.68 L507.43,22.76 L508.04,20.84 L508.65,18.93 L509.26,17.01 L509.87,15.09 L510.49,13.18 L511.40,10.30" fill="none" stroke="#ff0000" stroke-width="2.00" stroke-linecap="round" stroke-linejoin="round" opacity="1"/>
<path d="M321.20,27.00 L321.23,29.01 L321.23,31.02 L321.23,33.03 L321.23,35.04 L321.23,37.05 L321.23,39.06 L321.24,41.08 L321.25,43.09 L321.28,45.10 L321.31,47.11 L321.35,49.12 L321.40,51.13 L321.46,53.14 L321.53,55.14 L321.62,57.15 L321.72,59.16 L321.83,61.17 L321.96,63.17 L322.09,65.18 L322.24,67.18 L322.40,69.19 L322.58,71.19 L322.76,73.19 L322.96,75.19 L323.16,77.19 L323.37,79.19 L323.60,81.19 L323.83,83.19 L324.07,85.19 L324.33,87.18 L324.59,89.17 L324.87,91.16 L325.17,93.15 L325.47,95.14 L325.80,97.12 L326.13,99.11 L326.48,101.09 L326.85,103.06 L327.23,105.04 L327.62,107.01 L328.02,108.98 L328.43,110.95 L328.86,112.92 L329.29,114.89 L329.74,116.85 L330.21,118.82 L330.68,120.78 L331.18,122.75 L331.71,124.70 L332.27,126.65 L332.87,128.59 L333.52,130.51 L334.22,132.40 L335.00,134.26 L335.85,136.08 L336.78,137.84 L337.81,139.53 L338.94,141.15 L340.17,142.67 L341.50,144.10 L342.93,145.42 L344.46,146.63 L346.08,147.73 L347.78,148.72 L349.55,149.60 L351.38,150.39 L353.26,151.08" fill="none" stroke="#008000" stroke-width="2.00" stroke-linecap="round" stroke-linejoin="round"/>
<path d="M353.26,151.08 L355.18,151.69 L357.12,152.23 L359.09,152.72 L361.07,153.16 L363.06,153.56 L365.05,153.93 L367.04,154.29 L369.04,154.62 L371.03,154.95 L373.02,155.28 L375.01,155.59 L377.00,155.91 L378.99,156.22 L380.97,156.53 L382.96,156.84 L384.95,157.15 L386.94,157.45 L388.93,157.75 L390.91,158.04 L392.90,158.33 L394.89,158.61 L396.89,158.89 L398.88,159.17 L400.87,159.44 L402.86,159.71 L404.85,159.98 L406.85,160.24 L408.84,160.50 L410.83,160.76 L412.83,161.02 L414.82,161.28 L416.82,161.53 L418.81,161.79 L420.81,162.04 L422.80,162.30 L424.79,162.55 L426.79,162.81 L428.78,163.06 L430.78,163.32 L432.77,163.57 L434.77,163.83 L436.76,164.08 L438.75,164.34 L440.75,164.60 L442.74,164.86 L444.74,165.11 L446.73,165.37 L448.72,165.63 L450.72,165.89 L452.71,166.15 L454.70,166.40 L456.70,166.66 L458.69,166.92 L460.69,167.18 L462.68,167.43 L464.67,167.69 L466.67,167.95 L468.66,168.20 L470.66,168.46 L472.65,168.72 L474.64,168.97 L476.64,169.23 L478.63,169.49 L480.63,169.74 L482.62,170.00 L484.61,170.26 L486.61,170.51 L489.60,170.90" fill="none" stroke="#008000" stroke-width="2.0" stroke-linecap="round" stroke-dasharray="0.6,2.0"/>
<path d="M321.10,170.20 L321.87,168.39 L322.61,166.42 L323.46,164.53 L324.43,162.72 L325.50,161.01 L326.68,159.39 L327.96,157.88 L329.34,156.47 L330.80,155.17 L332.36,153.98 L333.98,152.89 L335.68,151.91 L337.44,151.03 L339.25,150.26 L341.11,149.58 L343.01,149.00 L344.94,148.50 L346.90,148.09 L348.89,147.75 L350.88,147.47 L352.89,147.23 L354.90,147.03 L356.91,146.84 L358.92,146.65 L360.92,146.45 L362.92,146.23 L364.91,145.97 L366.90,145.68 L368.87,145.35 L370.84,144.98 L372.80,144.57 L374.76,144.12 L376.70,143.63 L378.64,143.11 L380.58,142.58 L382.51,142.02 L384.43,141.45 L386.36,140.87 L388.28,140.29 L390.21,139.71 L392.13,139.13 L394.06,138.56 L395.99,137.99 L397.91,137.43 L399.85,136.88 L401.78,136.34 L403.72,135.81 L405.66,135.30 L407.61,134.80 L409.56,134.32 L411.51,133.86 L413.47,133.41 L415.43,132.96 L417.39,132.52 L419.35,132.07 L421.30,131.60 L423.24,131.10 L425.17,130.56 L427.08,129.98 L428.98,129.35 L430.85,128.65 L432.70,127.90 L434.53,127.09 L436.33,126.21 L438.98,124.79 L440.70,123.77 L442.40,122.69 L444.06,121.57 L445.70,120.40 L447.29,119.18 L448.85,117.91 L450.38,116.60 L451.87,115.25 L453.31,113.86 L454.72,112.43 L456.09,110.96 L457.41,109.45 L458.69,107.91 L459.93,106.32 L461.12,104.71 L462.26,103.06 L463.35,101.38 L464.40,99.67 L465.40,97.93 L466.35,96.16 L467.26,94.38 L468.13,92.57 L468.96,90.74 L469.75,88.89 L470.52,87.04 L471.26,85.17 L471.98,83.29 L472.68,81.41 L473.38,79.52 L474.06,77.63 L474.75,75.74 L475.44,73.85 L476.13,71.96 L476.82,70.08 L477.51,68.19 L478.21,66.31 L478.90,64.42 L479.60,62.54 L480.28,60.65 L480.96,58.76 L481.63,56.87 L482.28,54.97 L482.93,53.07 L483.56,51.16 L484.17,49.25 L484.78,47.33 L485.37,45.42 L485.95,43.49 L486.52,41.57 L487.08,39.64 L487.63,37.71 L488.17,35.77 L488.71,33.84 L489.24,31.90 L489.76,29.96 L490.28,28.02 L490.79,26.08 L491.30,24.13 L491.81,22.19 L492.32,20.25 L492.82,18.30 L493.32,16.36 L493.83,14.41 L494.60,11.50" fill="none" stroke="#008000" stroke-width="2.00" stroke-linecap="round" stroke-linejoin="round" opacity="1"/>
<path d="M321.20,27.00 L321.23,29.01 L321.23,31.02 L321.23,33.04 L321.23,35.05 L321.23,37.06 L321.23,39.07 L321.24,41.08 L321.25,43.10 L321.28,45.11 L321.31,47.12 L321.35,49.13 L321.40,51.14 L321.46,53.15 L321.54,55.16 L321.62,57.17 L321.72,59.18 L321.84,61.19 L321.96,63.20 L322.10,65.20 L322.25,67.21 L322.41,69.21 L322.59,71.22 L322.77,73.22 L322.96,75.22 L323.17,77.23 L323.38,79.23 L323.60,81.23 L323.83,83.23 L324.07,85.22 L324.32,87.22 L324.58,89.21 L324.85,91.21 L325.13,93.20 L325.42,95.19 L325.72,97.18 L326.04,99.17 L326.36,101.15 L326.69,103.14 L327.03,105.12 L327.38,107.10 L327.73,109.08 L328.09,111.07 L328.45,113.05 L328.82,115.03 L329.20,117.01 L329.59,118.99 L329.99,120.97 L330.41,122.95 L330.86,124.92 L331.34,126.89 L331.86,128.85 L332.43,130.80 L333.05,132.72 L333.74,134.62 L334.50,136.49 L335.34,138.31 L336.27,140.07 L337.84,142.59 L339.01,144.16 L340.29,145.64 L341.67,147.02 L343.15,148.30 L344.73,149.46 L346.38,150.52 L348.11,151.47 L349.91,152.32 L351.75,153.09 L353.64,153.78" fill="none" stroke="#000000" stroke-width="2.00" stroke-linecap="round" stroke-linejoin="round"/>
<path d="M353.64,153.78 L355.56,154.41 L357.51,154.98 L359.47,155.51 L361.43,156.01 L363.41,156.48 L365.38,156.93 L367.36,157.38 L369.33,157.81 L371.30,158.24 L373.27,158.67 L375.24,159.10 L377.21,159.52 L379.18,159.94 L381.15,160.36 L383.12,160.76 L385.09,161.16 L387.07,161.54 L389.04,161.92 L391.02,162.28 L393.00,162.62 L394.99,162.96 L396.97,163.27 L398.96,163.58 L400.95,163.88 L402.94,164.16 L404.93,164.44 L406.93,164.72 L408.92,164.99 L410.91,165.26 L412.91,165.53 L414.90,165.81 L416.89,166.09 L418.88,166.37 L420.87,166.66 L422.86,166.95 L424.85,167.25 L426.84,167.56 L428.83,167.86 L430.82,168.18 L432.80,168.49 L434.79,168.81 L436.78,169.13 L438.76,169.45 L440.75,169.78 L442.73,170.10 L444.72,170.42 L447.70,170.90" fill="none" stroke="#000000" stroke-width="2.0" stroke-linecap="round" stroke-dasharray="0.6,2.0"/>
<path d="M321.10,170.20 L321.87,168.38 L322.62,166.40 L323.48,164.51 L324.45,162.71 L325.54,161.00 L326.72,159.39 L328.02,157.89 L329.40,156.49 L330.88,155.19 L332.44,154.00 L334.07,152.90 L335.78,151.91 L337.54,151.00 L339.35,150.19 L341.21,149.45 L343.10,148.79 L345.02,148.19 L346.97,147.65 L348.93,147.15 L350.91,146.68 L352.88,146.23 L354.85,145.77 L356.82,145.30 L358.77,144.80 L360.72,144.28 L362.65,143.72 L364.57,143.12 L366.49,142.49 L368.39,141.82 L370.28,141.12 L372.16,140.40 L374.04,139.66 L375.91,138.90 L377.78,138.14 L379.64,137.37 L381.51,136.59 L383.38,135.81 L385.24,135.03 L387.10,134.25 L388.97,133.47 L390.83,132.68 L392.68,131.87 L394.52,131.05 L396.36,130.21 L398.17,129.33 L399.97,128.41 L401.75,127.46 L403.49,126.46 L405.21,125.40 L406.89,124.30 L408.53,123.14 L410.13,121.92 L411.68,120.65 L413.19,119.32 L415.35,117.22 L416.73,115.75 L418.05,114.23 L419.31,112.67 L420.52,111.06 L421.67,109.41 L422.76,107.72 L423.80,106.00 L424.80,104.24 L425.74,102.46 L426.64,100.65 L427.49,98.83 L428.31,96.98 L429.10,95.12 L429.86,93.25 L430.59,91.36 L431.31,89.47 L432.00,87.57 L432.68,85.67 L433.34,83.76 L433.98,81.85 L434.62,79.93 L435.24,78.01 L435.85,76.09 L436.45,74.16 L437.04,72.23 L437.62,70.30 L438.19,68.36 L438.75,66.42 L439.30,64.48 L439.85,62.54 L440.38,60.60 L440.91,58.65 L441.44,56.70 L441.96,54.75 L442.47,52.80 L442.98,50.85 L443.48,48.89 L443.98,46.94 L444.48,44.98 L444.97,43.03 L445.46,41.07 L445.94,39.11 L446.42,37.15 L446.90,35.19 L447.37,33.23 L447.84,31.27 L448.31,29.30 L448.77,27.34 L449.23,25.37 L449.69,23.41 L450.15,21.44 L450.60,19.48 L451.05,17.51 L451.51,15.55 L452.20,12.60" fill="none" stroke="#000000" stroke-width="2.00" stroke-linecap="round" stroke-linejoin="round" opacity="1"/>
<path d="M321.20,27.00 L321.23,29.01 L321.23,31.03 L321.23,33.04 L321.23,35.06 L321.23,37.07 L321.23,39.09 L321.24,41.10 L321.25,43.12 L321.28,45.13 L321.31,47.15 L321.35,49.16 L321.40,51.17 L321.47,53.19 L321.54,55.20 L321.63,57.21 L321.73,59.22 L321.85,61.23 L321.98,63.24 L322.12,65.25 L322.27,67.26 L322.43,69.27 L322.61,71.28 L322.79,73.28 L322.98,75.29 L323.18,77.29 L323.39,79.30 L323.60,81.30 L323.82,83.30 L324.04,85.30 L324.28,87.31 L324.52,89.31 L324.76,91.30 L325.02,93.30 L325.28,95.30 L325.56,97.30 L325.84,99.29 L326.12,101.28 L326.42,103.28 L326.72,105.27 L327.02,107.26 L327.33,109.25 L327.64,111.24 L327.96,113.23 L328.28,115.22 L328.60,117.21 L328.93,119.20 L329.27,121.19 L329.61,123.19 L329.96,125.18 L330.32,127.17 L330.70,129.16 L331.10,131.15 L331.53,133.13 L332.00,135.11 L332.51,137.08 L333.07,139.02 L333.69,140.95 L334.39,142.83 L335.18,144.67 L336.05,146.46 L337.03,148.17 L338.12,149.81 L339.31,151.36 L340.62,152.82 L342.02,154.17 L343.53,155.43 L345.13,156.57 L346.81,157.62 L348.56,158.58 L350.36,159.45 L352.21,160.25" fill="none" stroke="#17bec4" stroke-width="2.00" stroke-linecap="round" stroke-linejoin="round"/>
<path d="M352.21,160.25 L354.10,160.99 L356.01,161.67 L357.94,162.31 L359.88,162.91 L361.83,163.47 L363.79,164.01 L365.75,164.53 L367.71,165.02 L369.67,165.48 L371.64,165.92 L373.61,166.34 L375.59,166.73 L377.57,167.10 L379.55,167.45 L381.54,167.77 L383.53,168.09 L385.52,168.39 L387.52,168.67 L389.52,168.95 L391.52,169.22 L393.51,169.49 L395.51,169.76 L398.50,170.20" fill="none" stroke="#17bec4" stroke-width="2.0" stroke-linecap="round" stroke-dasharray="0.6,2.0"/>
<path d="M321.10,170.20 L321.84,168.32 L322.64,166.43 L323.55,164.61 L324.55,162.86 L325.65,161.18 L326.83,159.58 L328.09,158.03 L329.42,156.55 L330.82,155.12 L332.26,153.74 L333.76,152.41 L335.29,151.11 L336.86,149.85 L338.46,148.62 L340.08,147.42 L341.72,146.24 L343.38,145.08 L345.06,143.94 L346.75,142.82 L348.45,141.71 L350.15,140.61 L351.86,139.52 L353.56,138.42 L355.27,137.32 L356.96,136.21 L358.65,135.09 L360.31,133.93 L361.95,132.75 L363.55,131.52 L365.12,130.25 L366.64,128.93 L368.10,127.56 L369.51,126.13 L370.85,124.63 L372.12,123.09 L373.31,121.48 L374.43,119.82 L375.47,118.11 L376.44,116.35 L377.32,114.55 L378.14,112.72 L378.89,110.85 L379.57,108.95 L380.20,107.04 L380.79,105.10 L381.61,102.18 L382.13,100.22 L382.64,98.26 L383.14,96.30 L383.64,94.34 L384.15,92.38 L384.67,90.42 L385.19,88.47 L385.71,86.51 L386.24,84.56 L386.76,82.61 L387.28,80.66 L387.80,78.71 L388.31,76.75 L388.81,74.79 L389.29,72.83 L389.77,70.87 L390.23,68.90 L390.68,66.93 L391.13,64.96 L391.56,62.99 L391.99,61.01 L392.41,59.04 L392.82,57.06 L393.24,55.08 L393.65,53.11 L394.06,51.13 L394.47,49.15 L394.88,47.17 L395.29,45.19 L395.71,43.22 L396.13,41.24 L396.55,39.26 L396.97,37.29 L397.39,35.31 L397.81,33.33 L398.24,31.36 L398.67,29.38 L399.09,27.41 L399.52,25.44 L399.95,23.46 L400.38,21.49 L400.80,19.51 L401.23,17.54 L401.66,15.56 L402.30,12.60" fill="none" stroke="#17bec4" stroke-width="2.00" stroke-linecap="round" stroke-linejoin="round" opacity="1"/>
<path d="M582.20,17.90 L582.31,19.91 L582.38,21.92 L582.45,23.93 L582.53,25.95 L582.61,27.96 L582.69,29.97 L582.78,31.98 L582.88,33.99 L582.99,36.00 L583.11,38.01 L583.24,40.02 L583.38,42.03 L583.53,44.04 L583.70,46.04 L583.88,48.05 L584.07,50.05 L584.28,52.05 L584.51,54.05 L584.75,56.05 L585.01,58.05 L585.29,60.04 L585.58,62.03 L585.90,64.02 L586.24,66.01 L586.60,67.99 L586.98,69.97 L587.38,71.94 L587.80,73.91 L588.25,75.87 L588.72,77.83 L589.22,79.78 L589.75,81.72 L590.31,83.65 L590.91,85.57 L591.54,87.48 L592.20,89.38 L592.91,91.26 L593.64,93.13 L594.41,94.99 L595.22,96.83 L596.05,98.66 L596.91,100.48 L597.80,102.29 L598.71,104.09 L599.65,105.88 L600.60,107.65 L601.58,109.42 L602.57,111.17 L603.59,112.91 L604.63,114.63 L605.70,116.34 L606.80,118.03 L607.93,119.69 L609.09,121.34 L610.28,122.95 L611.51,124.54 L612.78,126.10 L614.09,127.63 L615.43,129.13 L616.81,130.60 L618.22,132.03 L619.67,133.42 L621.16,134.79 L622.67,136.11 L624.22,137.40 L625.80,138.65 L627.41,139.85 L629.06,141.01 L630.73,142.13 L632.43,143.20 L635.04,144.71 L636.81,145.65 L638.61,146.54 L640.44,147.38 L642.29,148.17 L644.16,148.90 L646.05,149.59 L647.95,150.22 L649.87,150.82 L651.81,151.37" fill="none" stroke="#0000ff" stroke-width="2.00" stroke-linecap="round" stroke-linejoin="round"/>
<path d="M651.81,151.37 L653.76,151.89 L655.71,152.37 L657.67,152.82 L659.64,153.25 L661.62,153.65 L663.60,154.04 L665.58,154.41 L667.56,154.77 L669.54,155.12 L671.53,155.46 L673.51,155.80 L675.50,156.14 L677.48,156.47 L679.47,156.80 L681.46,157.13 L683.44,157.46 L685.43,157.79 L687.41,158.13 L689.40,158.47 L691.38,158.81 L693.36,159.16 L695.34,159.52 L697.32,159.88 L699.30,160.24 L701.28,160.62 L703.26,160.99 L705.24,161.36 L707.22,161.73 L709.20,162.10 L711.18,162.46 L713.16,162.81 L715.14,163.15 L717.13,163.48 L719.11,163.80 L721.10,164.11 L723.09,164.41 L725.08,164.69 L727.08,164.97 L729.07,165.25 L731.07,165.51 L733.06,165.78 L735.06,166.04 L737.06,166.29 L739.05,166.55 L741.05,166.80 L743.05,167.06 L745.04,167.31 L747.04,167.56 L749.04,167.82 L751.04,168.07 L753.03,168.32 L755.03,168.57 L757.03,168.83 L759.03,169.08 L761.02,169.33 L763.02,169.58 L765.02,169.84 L767.01,170.09 L769.01,170.35 L771.01,170.61 L774.00,171.00" fill="none" stroke="#0000ff" stroke-width="2.0" stroke-linecap="round" stroke-dasharray="0.6,2.0"/>
<path d="M582.10,169.70 L582.99,167.93 L583.86,166.05 L584.84,164.23 L585.90,162.50 L587.06,160.85 L588.31,159.29 L589.64,157.81 L591.06,156.43 L592.55,155.13 L594.11,153.93 L595.74,152.82 L597.43,151.80 L599.17,150.87 L600.96,150.01 L602.79,149.22 L604.65,148.50 L606.54,147.84 L608.46,147.23 L610.40,146.66 L612.35,146.12 L614.30,145.59 L616.25,145.06 L618.19,144.53 L620.13,143.98 L622.06,143.42 L623.99,142.83 L625.90,142.22 L627.81,141.59 L629.70,140.93 L631.60,140.26 L633.48,139.56 L635.36,138.86 L637.24,138.14 L639.12,137.42 L640.99,136.70 L642.87,135.98 L644.75,135.26 L646.63,134.55 L648.51,133.84 L650.39,133.13 L652.28,132.44 L654.16,131.74 L656.05,131.06 L657.95,130.37 L659.84,129.69 L661.73,129.01 L663.62,128.33 L665.51,127.65 L667.40,126.95 L669.28,126.25 L671.16,125.52 L673.03,124.78 L674.88,124.02 L676.73,123.23 L678.56,122.41 L680.38,121.55 L682.18,120.67 L683.96,119.75 L685.73,118.80 L687.49,117.82 L689.22,116.82 L690.95,115.78 L692.65,114.72 L694.34,113.63 L696.01,112.51 L697.67,111.37 L699.30,110.21 L700.92,109.02 L702.52,107.80 L704.10,106.56 L705.66,105.29 L707.20,104.00 L708.72,102.69 L710.23,101.35 L711.71,99.99 L713.17,98.61 L714.60,97.20 L716.02,95.78 L717.41,94.33 L718.77,92.85 L720.11,91.36 L721.43,89.84 L722.72,88.31 L723.99,86.75 L725.24,85.17 L726.46,83.58 L727.67,81.97 L728.86,80.35 L730.03,78.72 L731.19,77.07 L732.33,75.42 L733.47,73.76 L734.60,72.10 L735.72,70.43 L736.83,68.76 L737.95,67.08 L739.06,65.41 L740.18,63.74 L741.30,62.07 L742.42,60.40 L743.56,58.74 L744.69,57.08 L745.84,55.43 L746.99,53.79 L748.16,52.15 L749.32,50.51 L750.50,48.88 L751.67,47.25 L752.85,45.62 L754.02,43.99 L755.18,42.35 L756.34,40.71 L757.49,39.06 L758.64,37.41 L759.77,35.75 L760.90,34.09 L762.02,32.42 L763.14,30.75 L764.25,29.08 L765.36,27.40 L766.48,25.73 L767.59,24.06 L768.71,22.39 L769.84,20.72 L770.97,19.06 L772.11,17.41 L773.26,15.76 L774.41,14.11 L775.57,12.47 L777.30,10.00" fill="none" stroke="#0000ff" stroke-width="2.00" stroke-linecap="round" stroke-linejoin="round" opacity="1"/>
<path d="M582.20,17.90 L582.31,19.90 L582.38,21.91 L582.45,23.92 L582.53,25.93 L582.61,27.93 L582.69,29.94 L582.78,31.95 L582.88,33.95 L582.99,35.96 L583.11,37.96 L583.23,39.97 L583.37,41.97 L583.52,43.97 L583.68,45.97 L583.86,47.97 L584.05,49.97 L584.26,51.97 L584.48,53.96 L584.72,55.96 L584.98,57.95 L585.26,59.94 L585.56,61.92 L585.88,63.90 L586.22,65.88 L586.59,67.86 L586.98,69.83 L587.39,71.79 L587.83,73.75 L588.30,75.71 L588.79,77.66 L589.31,79.59 L589.86,81.52 L590.44,83.44 L591.06,85.35 L591.72,87.25 L592.40,89.13 L593.13,91.00 L593.89,92.86 L594.69,94.70 L595.52,96.52 L596.38,98.34 L597.27,100.14 L598.18,101.93 L599.12,103.71 L600.08,105.47 L601.07,107.23 L602.07,108.97 L603.10,110.70 L604.15,112.41 L605.23,114.11 L606.34,115.79 L607.47,117.44 L608.65,119.07 L609.86,120.66 L611.11,122.23 L612.40,123.75 L613.73,125.24 L615.11,126.70 L616.53,128.11 L617.99,129.49 L619.48,130.82 L621.01,132.12 L622.57,133.39 L624.15,134.62 L625.77,135.82 L627.40,136.98 L629.06,138.12 L630.74,139.23 L632.43,140.31 L634.15,141.36 L635.88,142.38 L638.50,143.87 L640.27,144.83 L642.05,145.76 L643.85,146.65 L645.66,147.52 L647.49,148.34 L649.33,149.13 L651.19,149.87" fill="none" stroke="#ff0000" stroke-width="2.00" stroke-linecap="round" stroke-linejoin="round"/>
<path d="M651.19,149.87 L653.06,150.56 L654.96,151.21 L656.86,151.80 L658.79,152.35 L660.73,152.84 L662.68,153.30 L664.64,153.72 L666.61,154.11 L668.58,154.47 L670.56,154.81 L672.55,155.14 L674.53,155.45 L676.52,155.76 L678.51,156.06 L680.50,156.36 L682.48,156.67 L684.47,156.97 L686.45,157.28 L688.44,157.59 L690.42,157.92 L692.40,158.25 L694.38,158.59 L696.35,158.94 L698.33,159.29 L700.30,159.66 L702.28,160.03 L704.25,160.41 L706.22,160.79 L708.19,161.17 L710.16,161.54 L712.14,161.90 L714.11,162.26 L716.09,162.60 L718.07,162.93 L720.05,163.24 L722.04,163.55 L724.02,163.84 L726.01,164.12 L728.00,164.40 L729.99,164.67 L731.98,164.93 L733.97,165.18 L735.96,165.44 L737.96,165.69 L739.95,165.94 L741.94,166.19 L743.93,166.43 L745.93,166.68 L747.92,166.93 L749.91,167.17 L751.91,167.42 L753.90,167.66 L755.89,167.90 L757.89,168.15 L759.88,168.39 L761.87,168.64 L763.86,168.88 L765.86,169.13 L767.85,169.37 L769.84,169.62 L771.84,169.87 L773.83,170.12 L775.82,170.37 L777.81,170.62 L780.80,171.00" fill="none" stroke="#ff0000" stroke-width="2.0" stroke-linecap="round" stroke-dasharray="0.6,2.0"/>
<path d="M582.10,170.20 L582.99,168.43 L583.86,166.55 L584.83,164.74 L585.90,163.01 L587.06,161.36 L588.30,159.80 L589.64,158.32 L591.05,156.93 L592.53,155.62 L594.09,154.41 L595.71,153.29 L597.39,152.25 L599.13,151.30 L600.91,150.43 L602.73,149.64 L604.59,148.92 L606.48,148.27 L608.40,147.68 L610.34,147.14 L612.30,146.64 L614.26,146.17 L616.22,145.73 L618.19,145.29 L620.16,144.86 L622.13,144.43 L624.09,143.99 L626.05,143.54 L628.01,143.08 L629.96,142.62 L631.91,142.14 L633.86,141.66 L635.81,141.18 L637.76,140.70 L639.71,140.23 L641.66,139.75 L643.61,139.28 L645.56,138.82 L647.52,138.35 L649.47,137.88 L651.42,137.40 L653.37,136.92 L655.31,136.42 L657.25,135.91 L659.19,135.39 L661.13,134.85 L663.06,134.29 L664.98,133.73 L666.90,133.15 L668.82,132.55 L670.74,131.94 L672.65,131.32 L674.55,130.69 L676.46,130.04 L678.35,129.38 L680.24,128.70 L682.12,128.00 L684.00,127.29 L685.87,126.55 L687.73,125.80 L689.59,125.02 L691.43,124.23 L693.27,123.41 L695.09,122.56 L696.90,121.69 L698.70,120.79 L700.48,119.86 L702.23,118.89 L704.82,117.36 L706.51,116.29 L708.17,115.18 L709.81,114.02 L711.40,112.82 L712.97,111.57 L714.51,110.29 L716.01,108.96 L717.49,107.61 L718.94,106.22 L720.37,104.81 L721.78,103.38 L723.17,101.92 L724.54,100.45 L725.90,98.97 L727.24,97.47 L728.57,95.96 L729.88,94.44 L731.18,92.90 L732.46,91.36 L733.72,89.80 L734.97,88.22 L736.20,86.64 L737.41,85.04 L738.61,83.43 L739.79,81.80 L740.96,80.17 L742.11,78.53 L743.26,76.88 L744.39,75.22 L745.53,73.57 L746.66,71.91 L747.79,70.24 L748.92,68.59 L750.05,66.93 L751.18,65.27 L752.31,63.61 L753.43,61.94 L754.54,60.27 L755.65,58.60 L756.74,56.91 L757.81,55.22 L758.88,53.52 L759.93,51.81 L760.97,50.10 L762.01,48.38 L763.06,46.67 L764.11,44.96 L765.17,43.26 L766.25,41.57 L767.35,39.89 L768.45,38.22 L769.57,36.56 L770.69,34.90 L771.82,33.24 L772.95,31.58 L774.07,29.92 L775.18,28.25 L776.28,26.57 L777.35,24.88 L778.41,23.18 L779.44,21.46 L780.44,19.72 L781.42,17.97 L782.38,16.20 L783.32,14.42 L784.24,12.64 L785.70,10.00" fill="none" stroke="#ff0000" stroke-width="2.00" stroke-linecap="round" stroke-linejoin="round" opacity="1"/>
<path d="M582.20,17.90 L582.31,19.91 L582.38,21.92 L582.45,23.93 L582.53,25.93 L582.61,27.94 L582.69,29.95 L582.78,31.96 L582.88,33.97 L582.99,35.98 L583.11,37.98 L583.24,39.99 L583.38,41.99 L583.53,44.00 L583.69,46.00 L583.87,48.00 L584.07,50.01 L584.28,52.00 L584.50,54.00 L584.74,56.00 L585.00,57.99 L585.28,59.98 L585.57,61.97 L585.89,63.96 L586.23,65.94 L586.58,67.92 L586.96,69.89 L587.36,71.86 L587.78,73.83 L588.23,75.79 L588.70,77.74 L589.20,79.69 L589.73,81.63 L590.29,83.56 L590.88,85.48 L591.51,87.38 L592.17,89.28 L592.87,91.16 L593.60,93.03 L594.37,94.88 L595.17,96.73 L596.00,98.56 L596.86,100.37 L597.75,102.18 L598.66,103.98 L599.59,105.76 L600.54,107.53 L601.51,109.30 L602.50,111.05 L603.52,112.78 L604.56,114.51 L605.62,116.21 L606.72,117.90 L607.84,119.57 L609.00,121.21 L610.19,122.83 L611.41,124.42 L612.68,125.98 L613.98,127.51 L615.32,129.00 L616.69,130.47 L618.10,131.90 L619.54,133.30 L621.02,134.67 L622.53,135.99 L624.07,137.28 L625.65,138.53 L627.25,139.74 L628.89,140.91 L630.56,142.03 L632.25,143.10 L633.98,144.12 L635.74,145.09 L637.52,146.01 L639.33,146.87 L641.17,147.67 L643.03,148.42 L644.91,149.12 L646.80,149.77 L648.72,150.37 L650.65,150.92" fill="none" stroke="#008000" stroke-width="2.00" stroke-linecap="round" stroke-linejoin="round"/>
<path d="M650.65,150.92 L652.59,151.44 L654.55,151.92 L656.51,152.36 L658.48,152.79 L660.45,153.19 L662.42,153.57 L664.40,153.94 L666.38,154.29 L668.37,154.64 L670.35,154.98 L672.33,155.31 L674.32,155.65 L676.30,155.98 L678.28,156.30 L680.27,156.63 L682.25,156.96 L684.23,157.29 L686.22,157.62 L688.20,157.95 L690.18,158.29 L692.16,158.64 L694.14,158.99 L696.12,159.35 L698.09,159.72 L700.07,160.09 L702.04,160.47 L704.01,160.85 L705.99,161.24 L707.96,161.62 L709.93,161.99 L711.91,162.36 L713.89,162.72 L715.87,163.07 L717.85,163.41 L719.83,163.74 L721.81,164.06 L723.80,164.37 L725.79,164.66 L727.78,164.95 L729.77,165.24 L731.76,165.51 L733.75,165.79 L735.74,166.06 L737.73,166.33 L739.73,166.60 L741.72,166.86 L743.71,167.13 L745.70,167.39 L747.70,167.66 L749.69,167.92 L751.68,168.19 L753.67,168.45 L755.67,168.72 L757.66,168.98 L759.65,169.25 L761.64,169.52 L763.64,169.78 L765.63,170.05 L767.62,170.32 L769.61,170.59 L772.60,171.00" fill="none" stroke="#008000" stroke-width="2.0" stroke-linecap="round" stroke-dasharray="0.6,2.0"/>
<path d="M582.10,170.20 L582.99,168.43 L583.86,166.54 L584.84,164.73 L585.91,163.00 L587.07,161.35 L588.32,159.78 L589.65,158.30 L591.07,156.91 L592.56,155.61 L594.12,154.40 L595.74,153.28 L597.43,152.24 L599.17,151.30 L600.95,150.43 L602.78,149.64 L604.64,148.91 L606.54,148.25 L608.46,147.65 L610.40,147.11 L612.36,146.59 L614.32,146.11 L616.28,145.64 L618.25,145.18 L620.21,144.72 L622.18,144.25 L624.13,143.78 L626.09,143.30 L628.04,142.81 L629.99,142.30 L631.93,141.79 L633.88,141.28 L635.82,140.76 L637.76,140.25 L639.71,139.74 L641.66,139.24 L643.60,138.74 L645.55,138.24 L647.50,137.75 L649.45,137.25 L651.40,136.75 L653.34,136.24 L655.28,135.72 L657.22,135.18 L659.16,134.63 L661.09,134.07 L663.01,133.50 L664.94,132.91 L666.86,132.30 L668.77,131.69 L670.69,131.06 L672.60,130.43 L674.50,129.78 L676.40,129.12 L678.30,128.45 L680.19,127.76 L682.08,127.06 L683.96,126.34 L685.83,125.59 L687.69,124.82 L689.53,124.02 L691.37,123.19 L693.19,122.33 L694.98,121.43 L696.76,120.50 L698.52,119.52 L700.24,118.50 L701.94,117.43 L703.61,116.32 L705.25,115.16 L706.85,113.96 L708.41,112.71 L709.95,111.42 L711.45,110.09 L712.92,108.72 L714.37,107.32 L715.79,105.90 L717.19,104.45 L718.57,102.98 L719.93,101.49 L721.27,99.99 L722.60,98.48 L723.91,96.95 L725.21,95.41 L726.49,93.86 L727.76,92.30 L729.01,90.72 L730.24,89.13 L731.46,87.53 L732.65,85.91 L733.82,84.28 L734.97,82.63 L736.10,80.97 L737.21,79.29 L738.30,77.60 L739.37,75.90 L740.43,74.19 L741.48,72.48 L742.52,70.75 L743.56,69.03 L744.59,67.30 L745.62,65.58 L746.65,63.85 L747.68,62.12 L748.71,60.39 L749.74,58.66 L750.76,56.93 L751.78,55.19 L752.78,53.45 L753.77,51.70 L754.75,49.94 L755.70,48.17 L756.64,46.40 L757.56,44.61 L758.46,42.81 L759.34,41.00 L760.22,39.20 L761.08,37.38 L761.94,35.56 L762.80,33.75 L763.67,31.93 L764.54,30.12 L765.43,28.32 L766.33,26.53 L767.25,24.74 L768.20,22.97 L769.17,21.21 L770.16,19.46 L771.18,17.73 L772.22,16.00 L773.27,14.29 L774.35,12.59 L775.90,10.00" fill="none" stroke="#008000" stroke-width="2.00" stroke-linecap="round" stroke-linejoin="round" opacity="1"/>
<path d="M582.20,17.90 L582.31,19.91 L582.38,21.92 L582.45,23.93 L582.53,25.95 L582.61,27.96 L582.69,29.97 L582.78,31.98 L582.88,33.99 L582.99,36.00 L583.11,38.01 L583.24,40.02 L583.38,42.03 L583.54,44.04 L583.70,46.05 L583.88,48.05 L584.08,50.05 L584.29,52.06 L584.52,54.06 L584.76,56.05 L585.02,58.05 L585.30,60.05 L585.59,62.04 L585.90,64.03 L586.23,66.01 L586.58,68.00 L586.95,69.98 L587.34,71.95 L587.75,73.92 L588.19,75.89 L588.65,77.85 L589.13,79.81 L589.65,81.75 L590.19,83.69 L590.77,85.61 L591.39,87.53 L592.04,89.43 L592.72,91.32 L593.45,93.19 L594.20,95.06 L594.99,96.91 L595.80,98.75 L596.64,100.58 L597.51,102.40 L598.39,104.21 L599.29,106.02 L600.21,107.81 L601.15,109.60 L602.10,111.37 L603.08,113.14 L604.08,114.88 L605.10,116.62 L606.16,118.33 L607.25,120.02 L608.37,121.69 L609.53,123.32 L610.73,124.94 L611.97,126.52 L613.25,128.07 L614.56,129.60 L615.91,131.10 L617.29,132.56 L618.71,134.00 L620.16,135.41 L621.63,136.78 L623.14,138.11 L624.69,139.41 L626.26,140.66 L627.87,141.85 L629.52,143.00 L631.21,144.08 L632.93,145.11 L634.68,146.07 L636.47,146.97 L638.29,147.81 L640.14,148.58 L642.01,149.31 L643.91,149.98 L645.82,150.60 L647.75,151.18 L649.69,151.73 L651.64,152.25" fill="none" stroke="#000000" stroke-width="2.00" stroke-linecap="round" stroke-linejoin="round"/>
<path d="M651.64,152.25 L653.59,152.74 L655.56,153.21 L657.52,153.67 L659.49,154.11 L661.45,154.55 L663.42,154.98 L665.39,155.40 L667.36,155.82 L669.34,156.23 L671.31,156.65 L673.28,157.05 L675.25,157.46 L677.22,157.87 L679.19,158.27 L681.17,158.68 L683.14,159.08 L685.11,159.48 L687.08,159.88 L689.06,160.29 L691.03,160.69 L693.00,161.10 L694.97,161.51 L696.95,161.91 L698.92,162.32 L700.89,162.73 L702.86,163.13 L704.83,163.53 L706.81,163.92 L708.79,164.30 L710.76,164.68 L712.74,165.04 L714.72,165.39 L716.71,165.73 L718.69,166.06 L720.68,166.38 L722.67,166.68 L724.66,166.98 L726.65,167.27 L728.65,167.55 L730.64,167.82 L732.64,168.09 L734.63,168.36 L736.63,168.62 L738.63,168.88 L740.62,169.14 L742.62,169.40 L744.62,169.66 L746.61,169.93 L748.61,170.19 L751.60,170.60" fill="none" stroke="#000000" stroke-width="2.0" stroke-linecap="round" stroke-dasharray="0.6,2.0"/>
<path d="M582.10,170.20 L582.99,168.43 L583.86,166.55 L584.84,164.74 L585.90,163.01 L587.06,161.36 L588.31,159.79 L589.64,158.32 L591.06,156.93 L592.54,155.63 L594.10,154.43 L595.73,153.31 L597.41,152.28 L599.15,151.33 L600.93,150.46 L602.76,149.67 L604.62,148.94 L606.51,148.28 L608.42,147.67 L610.36,147.10 L612.31,146.57 L614.26,146.06 L616.22,145.56 L618.17,145.07 L620.12,144.57 L622.07,144.06 L624.01,143.53 L625.95,142.99 L627.88,142.44 L629.81,141.86 L631.73,141.28 L633.64,140.67 L635.56,140.07 L637.47,139.45 L639.38,138.83 L641.29,138.20 L643.20,137.58 L645.11,136.95 L647.01,136.31 L648.92,135.67 L650.82,135.02 L652.71,134.35 L654.61,133.68 L656.49,132.99 L658.38,132.29 L660.25,131.57 L662.12,130.84 L663.99,130.09 L665.85,129.33 L667.71,128.55 L669.55,127.76 L671.39,126.95 L673.22,126.11 L675.04,125.26 L676.85,124.38 L678.64,123.46 L680.41,122.52 L682.17,121.54 L683.90,120.53 L685.60,119.47 L687.28,118.38 L688.93,117.24 L690.55,116.06 L692.14,114.83 L693.70,113.57 L695.22,112.27 L696.71,110.92 L698.17,109.55 L699.60,108.13 L700.99,106.69 L702.35,105.22 L703.69,103.71 L705.00,102.19 L706.28,100.64 L707.54,99.08 L708.78,97.49 L710.00,95.89 L711.20,94.28 L712.38,92.65 L713.54,91.01 L714.68,89.35 L715.80,87.69 L716.90,86.01 L717.99,84.32 L719.06,82.61 L720.11,80.90 L721.14,79.18 L722.16,77.44 L723.16,75.70 L724.14,73.95 L725.11,72.19 L726.07,70.43 L727.01,68.65 L727.95,66.87 L728.87,65.09 L729.79,63.30 L730.69,61.50 L731.59,59.71 L732.48,57.90 L733.36,56.10 L734.23,54.29 L735.10,52.48 L735.96,50.66 L736.82,48.84 L737.67,47.02 L738.51,45.20 L739.36,43.38 L740.20,41.55 L741.04,39.73 L741.89,37.91 L742.73,36.08 L743.59,34.27 L744.44,32.45 L745.31,30.63 L746.18,28.82 L747.05,27.02 L747.94,25.21 L748.83,23.41 L749.73,21.62 L750.64,19.82 L751.55,18.03 L752.47,16.25 L753.40,14.46 L754.33,12.68 L755.70,10.00" fill="none" stroke="#000000" stroke-width="2.00" stroke-linecap="round" stroke-linejoin="round" opacity="1"/>
<path d="M582.20,17.90 L582.31,19.91 L582.38,21.92 L582.45,23.93 L582.53,25.95 L582.61,27.96 L582.69,29.97 L582.78,31.98 L582.88,33.99 L582.99,36.00 L583.11,38.01 L583.24,40.02 L583.39,42.03 L583.54,44.03 L583.71,46.04 L583.89,48.04 L584.09,50.05 L584.30,52.05 L584.53,54.05 L584.77,56.05 L585.03,58.04 L585.31,60.04 L585.60,62.03 L585.91,64.02 L586.23,66.01 L586.58,67.99 L586.93,69.97 L587.31,71.95 L587.71,73.92 L588.12,75.89 L588.56,77.86 L589.02,79.82 L589.51,81.77 L590.02,83.72 L590.56,85.65 L591.14,87.58 L591.74,89.50 L592.38,91.40 L593.05,93.30 L593.75,95.19 L594.47,97.07 L595.22,98.93 L596.00,100.79 L596.79,102.64 L597.61,104.48 L598.45,106.32 L599.31,108.14 L600.18,109.95 L601.08,111.76 L602.00,113.55 L602.94,115.33 L603.92,117.09 L604.92,118.84 L605.95,120.56 L607.01,122.27 L608.12,123.95 L609.25,125.61 L610.43,127.24 L611.64,128.85 L612.88,130.44 L614.81,132.76 L616.14,134.28 L617.50,135.77 L618.89,137.23 L620.32,138.67 L621.77,140.06 L623.27,141.42 L624.79,142.73 L626.36,144.00 L627.96,145.20 L629.61,146.34 L631.29,147.41 L633.02,148.40 L634.78,149.32 L636.59,150.15 L638.43,150.90 L640.31,151.58 L642.21,152.19 L644.14,152.74 L646.08,153.25 L648.04,153.71 L650.01,154.15" fill="none" stroke="#17bec4" stroke-width="2.00" stroke-linecap="round" stroke-linejoin="round"/>
<path d="M650.01,154.15 L651.98,154.58 L653.96,155.00 L655.93,155.42 L657.91,155.84 L659.88,156.28 L661.84,156.72 L663.80,157.18 L665.76,157.64 L667.72,158.12 L669.68,158.59 L671.63,159.08 L673.58,159.56 L675.54,160.05 L677.49,160.54 L679.44,161.03 L681.40,161.51 L683.35,161.99 L685.31,162.48 L687.26,162.96 L689.22,163.44 L691.17,163.92 L693.13,164.39 L695.09,164.86 L697.04,165.32 L699.00,165.78 L700.97,166.23 L702.93,166.68 L704.89,167.11 L706.86,167.54 L708.83,167.95 L710.80,168.34 L712.78,168.73 L714.76,169.09 L716.74,169.44 L718.73,169.77 L720.71,170.07 L722.71,170.36 L724.70,170.62 L727.70,171.00" fill="none" stroke="#17bec4" stroke-width="2.0" stroke-linecap="round" stroke-dasharray="0.6,2.0"/>
<path d="M582.10,170.20 L582.99,168.43 L583.86,166.55 L584.84,164.74 L585.90,163.01 L587.06,161.36 L588.31,159.80 L589.65,158.32 L591.06,156.94 L592.55,155.65 L594.11,154.45 L595.74,153.34 L597.43,152.32 L599.17,151.37 L600.95,150.51 L602.78,149.71 L604.63,148.97 L606.52,148.29 L608.43,147.65 L610.36,147.05 L612.30,146.48 L614.24,145.91 L616.17,145.35 L618.11,144.77 L620.03,144.19 L621.95,143.59 L623.87,142.96 L625.77,142.31 L627.66,141.63 L629.54,140.93 L631.41,140.20 L633.27,139.45 L635.13,138.68 L636.97,137.88 L638.81,137.07 L640.64,136.23 L642.46,135.38 L644.27,134.51 L646.08,133.63 L647.87,132.73 L649.67,131.81 L651.45,130.88 L653.22,129.93 L654.99,128.97 L656.74,127.98 L658.48,126.98 L660.21,125.95 L661.92,124.90 L663.61,123.81 L665.28,122.70 L666.93,121.55 L668.55,120.37 L670.14,119.14 L671.69,117.88 L673.22,116.58 L674.71,115.24 L676.16,113.86 L678.28,111.73 L679.65,110.26 L680.99,108.77 L682.31,107.25 L683.59,105.70 L684.85,104.14 L686.09,102.55 L687.31,100.95 L688.51,99.34 L689.69,97.71 L690.85,96.07 L692.00,94.42 L693.13,92.75 L694.25,91.08 L695.35,89.40 L696.43,87.71 L697.50,86.01 L698.56,84.29 L699.59,82.57 L700.61,80.84 L701.62,79.10 L702.60,77.35 L703.57,75.59 L704.52,73.82 L705.46,72.04 L706.38,70.26 L707.29,68.47 L708.18,66.67 L709.06,64.86 L709.92,63.04 L710.78,61.23 L711.62,59.40 L712.45,57.57 L713.28,55.74 L714.10,53.90 L714.91,52.07 L715.71,50.23 L716.52,48.38 L717.32,46.54 L718.11,44.69 L718.91,42.85 L719.70,41.00 L720.49,39.15 L721.28,37.31 L722.07,35.46 L722.86,33.61 L723.65,31.76 L724.44,29.92 L725.23,28.07 L726.02,26.22 L726.81,24.37 L727.60,22.52 L728.39,20.68 L729.17,18.83 L729.96,16.98 L730.74,15.13 L731.53,13.28 L732.70,10.50" fill="none" stroke="#17bec4" stroke-width="2.00" stroke-linecap="round" stroke-linejoin="round" opacity="1"/>
<text x="56.8" y="16.2" font-size="15.60" text-anchor="start" fill="#000" stroke="#000" stroke-width="0.00" letter-spacing="1.3">A)</text>
<text x="315.0" y="15.9" font-size="15.60" text-anchor="start" fill="#000" stroke="#000" stroke-width="0.00" letter-spacing="1.3">B)</text>
<text x="576.3" y="16.9" font-size="15.60" text-anchor="start" fill="#000" stroke="#000" stroke-width="0.00" letter-spacing="1.3">C)</text>
<rect x="230.0" y="95.5" width="43.0" height="62.3" rx="2" fill="#ffffff" fill-opacity="0.8" stroke="#ececec" stroke-width="1"/>
<circle cx="240.4" cy="102.6" r="2.8" fill="#0000ff"/>
<text x="253.5" y="105.9" font-size="9.60" text-anchor="start" fill="#333" stroke="#333" stroke-width="0.00" letter-spacing="0.35">1</text>
<circle cx="240.4" cy="114.8" r="2.8" fill="#ff0000"/>
<text x="253.5" y="118.1" font-size="9.60" text-anchor="start" fill="#333" stroke="#333" stroke-width="0.00" letter-spacing="0.35">50</text>
<circle cx="240.4" cy="126.8" r="2.8" fill="#008000"/>
<text x="253.5" y="130.1" font-size="9.60" text-anchor="start" fill="#333" stroke="#333" stroke-width="0.00" letter-spacing="0.35">100</text>
<circle cx="240.4" cy="138.4" r="2.8" fill="#000000"/>
<text x="253.5" y="141.7" font-size="9.60" text-anchor="start" fill="#333" stroke="#333" stroke-width="0.00" letter-spacing="0.35">150</text>
<circle cx="240.4" cy="150.6" r="2.8" fill="#17bec4"/>
<text x="253.5" y="153.9" font-size="9.60" text-anchor="start" fill="#333" stroke="#333" stroke-width="0.00" letter-spacing="0.35">200</text>
<rect x="481.7" y="99.0" width="42.8" height="62.3" rx="2" fill="#ffffff" fill-opacity="0.8" stroke="#ececec" stroke-width="1"/>
<circle cx="492.4" cy="107.0" r="2.8" fill="#0000ff"/>
<text x="505.7" y="110.3" font-size="9.60" text-anchor="start" fill="#333" stroke="#333" stroke-width="0.00" letter-spacing="0.35">1</text>
<circle cx="492.4" cy="118.7" r="2.8" fill="#ff0000"/>
<text x="505.7" y="122.0" font-size="9.60" text-anchor="start" fill="#333" stroke="#333" stroke-width="0.00" letter-spacing="0.35">50</text>
<circle cx="492.4" cy="130.9" r="2.8" fill="#008000"/>
<text x="505.7" y="134.2" font-size="9.60" text-anchor="start" fill="#333" stroke="#333" stroke-width="0.00" letter-spacing="0.35">100</text>
<circle cx="492.4" cy="142.5" r="2.8" fill="#000000"/>
<text x="505.7" y="145.8" font-size="9.60" text-anchor="start" fill="#333" stroke="#333" stroke-width="0.00" letter-spacing="0.35">150</text>
<circle cx="492.4" cy="154.2" r="2.8" fill="#17bec4"/>
<text x="505.7" y="157.5" font-size="9.60" text-anchor="start" fill="#333" stroke="#333" stroke-width="0.00" letter-spacing="0.35">200</text>
<rect x="744.8" y="99.0" width="43.0" height="62.4" rx="2" fill="#ffffff" fill-opacity="0.8" stroke="#ececec" stroke-width="1"/>
<circle cx="755.6" cy="107.0" r="2.8" fill="#0000ff"/>
<text x="768.8" y="110.3" font-size="9.60" text-anchor="start" fill="#333" stroke="#333" stroke-width="0.00" letter-spacing="0.35">1</text>
<circle cx="755.6" cy="118.7" r="2.8" fill="#ff0000"/>
<text x="768.8" y="122.0" font-size="9.60" text-anchor="start" fill="#333" stroke="#333" stroke-width="0.00" letter-spacing="0.35">50</text>
<circle cx="755.6" cy="130.9" r="2.8" fill="#008000"/>
<text x="768.8" y="134.2" font-size="9.60" text-anchor="start" fill="#333" stroke="#333" stroke-width="0.00" letter-spacing="0.35">100</text>
<circle cx="755.6" cy="142.5" r="2.8" fill="#000000"/>
<text x="768.8" y="145.8" font-size="9.60" text-anchor="start" fill="#333" stroke="#333" stroke-width="0.00" letter-spacing="0.35">150</text>
<circle cx="755.6" cy="154.2" r="2.8" fill="#17bec4"/>
<text x="768.8" y="157.5" font-size="9.60" text-anchor="start" fill="#333" stroke="#333" stroke-width="0.00" letter-spacing="0.35">200</text>
<text transform="translate(18.6,162.5) rotate(-90)" font-size="16.3" fill="#000">Ecell(V)&#160; vs. Li<tspan dy="-8" font-size="15">+</tspan><tspan dy="8">/Li</tspan></text>
<text x="355.3" y="215.4" font-size="16.3" fill="#000">Capacity <tspan font-style="italic">(mAhg</tspan><tspan font-style="italic" dy="-7" font-size="13.5">-1</tspan><tspan font-style="italic" dy="7">)</tspan></text>
<rect x="58.5" y="241.3" width="207.0" height="219.6" fill="none" stroke="#bababa" stroke-width="1.1"/>
<rect x="319.4" y="238.2" width="215.8" height="222.4" fill="none" stroke="#bababa" stroke-width="1.1"/>
<rect x="579.2" y="241.2" width="207.4" height="219.7" fill="none" stroke="#bababa" stroke-width="1.1"/>
<text x="56.4" y="461.1" font-size="9.30" text-anchor="end" fill="#262626" stroke="#262626" stroke-width="0.08" >0</text>
<text x="56.4" y="434.1" font-size="9.30" text-anchor="end" fill="#262626" stroke="#262626" stroke-width="0.08" >50</text>
<text x="56.4" y="407.1" font-size="9.30" text-anchor="end" fill="#262626" stroke="#262626" stroke-width="0.08" >100</text>
<text x="56.4" y="380.1" font-size="9.30" text-anchor="end" fill="#262626" stroke="#262626" stroke-width="0.08" >150</text>
<text x="56.4" y="353.1" font-size="9.30" text-anchor="end" fill="#262626" stroke="#262626" stroke-width="0.08" >200</text>
<text x="56.4" y="326.1" font-size="9.30" text-anchor="end" fill="#262626" stroke="#262626" stroke-width="0.08" >250</text>
<text x="56.4" y="299.2" font-size="9.30" text-anchor="end" fill="#262626" stroke="#262626" stroke-width="0.08" >300</text>
<text x="56.4" y="272.2" font-size="9.30" text-anchor="end" fill="#262626" stroke="#262626" stroke-width="0.08" >350</text>
<text x="56.4" y="245.2" font-size="9.30" text-anchor="end" fill="#262626" stroke="#262626" stroke-width="0.08" >400</text>
<text x="317.4" y="461.1" font-size="9.30" text-anchor="end" fill="#262626" stroke="#262626" stroke-width="0.08" >0</text>
<text x="317.4" y="427.8" font-size="9.30" text-anchor="end" fill="#262626" stroke="#262626" stroke-width="0.08" >50</text>
<text x="317.4" y="394.6" font-size="9.30" text-anchor="end" fill="#262626" stroke="#262626" stroke-width="0.08" >100</text>
<text x="317.4" y="361.3" font-size="9.30" text-anchor="end" fill="#262626" stroke="#262626" stroke-width="0.08" >150</text>
<text x="317.4" y="328.1" font-size="9.30" text-anchor="end" fill="#262626" stroke="#262626" stroke-width="0.08" >200</text>
<text x="317.4" y="294.8" font-size="9.30" text-anchor="end" fill="#262626" stroke="#262626" stroke-width="0.08" >250</text>
<text x="317.4" y="261.6" font-size="9.30" text-anchor="end" fill="#262626" stroke="#262626" stroke-width="0.08" >300</text>
<text x="576.4" y="459.2" font-size="9.30" text-anchor="end" fill="#262626" stroke="#262626" stroke-width="0.08" >0</text>
<text x="576.4" y="416.4" font-size="9.30" text-anchor="end" fill="#262626" stroke="#262626" stroke-width="0.08" >20</text>
<text x="576.4" y="373.6" font-size="9.30" text-anchor="end" fill="#262626" stroke="#262626" stroke-width="0.08" >40</text>
<text x="576.4" y="330.8" font-size="9.30" text-anchor="end" fill="#262626" stroke="#262626" stroke-width="0.08" >60</text>
<text x="576.4" y="288.0" font-size="9.30" text-anchor="end" fill="#262626" stroke="#262626" stroke-width="0.08" >80</text>
<text x="576.4" y="245.2" font-size="9.30" text-anchor="end" fill="#262626" stroke="#262626" stroke-width="0.08" >100</text>
<text x="81.5" y="469.2" font-size="9.30" text-anchor="middle" fill="#262626" stroke="#262626" stroke-width="0.08" >50</text>
<text x="107.7" y="469.2" font-size="9.30" text-anchor="middle" fill="#262626" stroke="#262626" stroke-width="0.08" >100</text>
<text x="133.9" y="469.2" font-size="9.30" text-anchor="middle" fill="#262626" stroke="#262626" stroke-width="0.08" >150</text>
<text x="160.2" y="469.2" font-size="9.30" text-anchor="middle" fill="#262626" stroke="#262626" stroke-width="0.08" >200</text>
<text x="186.4" y="469.2" font-size="9.30" text-anchor="middle" fill="#262626" stroke="#262626" stroke-width="0.08" >250</text>
<text x="212.7" y="469.2" font-size="9.30" text-anchor="middle" fill="#262626" stroke="#262626" stroke-width="0.08" >300</text>
<text x="238.9" y="469.2" font-size="9.30" text-anchor="middle" fill="#262626" stroke="#262626" stroke-width="0.08" >350</text>
<text x="265.2" y="469.2" font-size="9.30" text-anchor="middle" fill="#262626" stroke="#262626" stroke-width="0.08" >400</text>
<text x="323.0" y="469.2" font-size="9.30" text-anchor="middle" fill="#262626" stroke="#262626" stroke-width="0.08" >0</text>
<text x="355.2" y="469.2" font-size="9.30" text-anchor="middle" fill="#262626" stroke="#262626" stroke-width="0.08" >50</text>
<text x="387.3" y="469.2" font-size="9.30" text-anchor="middle" fill="#262626" stroke="#262626" stroke-width="0.08" >100</text>
<text x="419.5" y="469.2" font-size="9.30" text-anchor="middle" fill="#262626" stroke="#262626" stroke-width="0.08" >150</text>
<text x="451.7" y="469.2" font-size="9.30" text-anchor="middle" fill="#262626" stroke="#262626" stroke-width="0.08" >200</text>
<text x="483.9" y="469.2" font-size="9.30" text-anchor="middle" fill="#262626" stroke="#262626" stroke-width="0.08" >250</text>
<text x="516.0" y="469.2" font-size="9.30" text-anchor="middle" fill="#262626" stroke="#262626" stroke-width="0.08" >300</text>
<text x="619.0" y="469.2" font-size="9.30" text-anchor="middle" fill="#262626" stroke="#262626" stroke-width="0.08" >20</text>
<text x="661.0" y="469.2" font-size="9.30" text-anchor="middle" fill="#262626" stroke="#262626" stroke-width="0.08" >40</text>
<text x="702.9" y="469.2" font-size="9.30" text-anchor="middle" fill="#262626" stroke="#262626" stroke-width="0.08" >60</text>
<text x="744.9" y="469.2" font-size="9.30" text-anchor="middle" fill="#262626" stroke="#262626" stroke-width="0.08" >80</text>
<text x="786.8" y="469.2" font-size="9.30" text-anchor="middle" fill="#262626" stroke="#262626" stroke-width="0.08" >100</text>
<text x="63.0" y="259.9" font-size="15.60" text-anchor="start" fill="#000" stroke="#000" stroke-width="0.00" letter-spacing="1.3">D)</text>
<text x="325.0" y="255.0" font-size="15.60" text-anchor="start" fill="#000" stroke="#000" stroke-width="0.00" letter-spacing="1.3">E)</text>
<text x="584.4" y="258.9" font-size="15.60" text-anchor="start" fill="#000" stroke="#000" stroke-width="0.00" letter-spacing="1.3">F)</text>
<path d="M65.00,455.60 L65.39,454.65 L65.90,453.76 L66.50,452.95 L67.20,452.22 L67.97,451.58 L68.82,451.03 L69.73,450.60 L70.69,450.27 L71.68,450.06 L72.69,449.98 L73.70,450.04 L74.69,450.23 L75.64,450.59 L76.52,451.11 L77.32,451.77 L78.02,452.49 L78.64,453.13 L79.22,453.53 L79.81,453.56 L80.42,453.22 L81.07,452.60 L81.74,451.83 L82.43,451.01 L83.12,450.21 L83.80,449.44 L84.48,448.69 L85.17,447.94 L85.85,447.19 L86.53,446.43 L87.21,445.68 L88.23,444.56 L88.91,443.81 L89.60,443.05 L90.28,442.30 L90.96,441.55 L91.64,440.80 L92.32,440.05 L93.00,439.30 L93.68,438.55 L94.37,437.80 L95.05,437.05 L95.73,436.30 L96.41,435.54 L97.09,434.79 L97.77,434.04 L98.45,433.29 L99.14,432.54 L99.82,431.79 L100.50,431.04 L101.18,430.29 L101.86,429.54 L102.54,428.79 L103.23,428.03 L103.91,427.28 L104.59,426.53 L105.27,425.78 L105.95,425.03 L106.63,424.28 L107.31,423.53 L108.00,422.78 L108.68,422.03 L109.70,420.90" fill="none" stroke="#5fd3d3" stroke-width="1.00" stroke-linejoin="round"/>
<circle cx="65.0" cy="455.6" r="1.0" fill="none" stroke="#8ce6e6" stroke-width="1.0"/>
<circle cx="66.6" cy="452.9" r="1.0" fill="none" stroke="#8ce6e6" stroke-width="1.0"/>
<circle cx="69.1" cy="450.9" r="1.0" fill="none" stroke="#8ce6e6" stroke-width="1.0"/>
<circle cx="72.2" cy="450.0" r="1.0" fill="none" stroke="#8ce6e6" stroke-width="1.0"/>
<circle cx="75.2" cy="450.4" r="1.0" fill="none" stroke="#8ce6e6" stroke-width="1.0"/>
<circle cx="77.7" cy="451.9" r="1.0" fill="none" stroke="#8ce6e6" stroke-width="1.0"/>
<circle cx="79.3" cy="454.4" r="1.0" fill="none" stroke="#8ce6e6" stroke-width="1.0"/>
<circle cx="82.5" cy="448.5" r="1.0" fill="none" stroke="#8ce6e6" stroke-width="1.0"/>
<circle cx="86.7" cy="443.5" r="1.0" fill="none" stroke="#8ce6e6" stroke-width="1.0"/>
<circle cx="90.9" cy="438.6" r="1.0" fill="none" stroke="#8ce6e6" stroke-width="1.0"/>
<circle cx="95.1" cy="433.7" r="1.0" fill="none" stroke="#8ce6e6" stroke-width="1.0"/>
<circle cx="99.3" cy="428.8" r="1.0" fill="none" stroke="#8ce6e6" stroke-width="1.0"/>
<circle cx="103.5" cy="423.8" r="1.0" fill="none" stroke="#8ce6e6" stroke-width="1.0"/>
<circle cx="107.7" cy="418.9" r="1.0" fill="none" stroke="#8ce6e6" stroke-width="1.0"/>
<path d="M66.00,456.00 L66.46,455.09 L67.05,454.27 L67.72,453.52 L68.48,452.86 L69.30,452.29 L70.17,451.81 L71.10,451.41 L72.06,451.10 L73.04,450.88 L74.04,450.74 L75.05,450.69 L76.06,450.73 L77.06,450.86 L78.04,451.09 L79.00,451.42 L79.91,451.87 L80.76,452.45 L81.53,453.12 L82.23,453.80 L82.87,454.35 L83.48,454.61 L84.10,454.51 L84.75,454.07 L85.42,453.40 L86.11,452.62 L86.80,451.82 L87.50,451.05 L88.19,450.30 L88.88,449.57 L89.57,448.83 L90.26,448.10 L90.95,447.36 L91.64,446.63 L92.68,445.52 L93.37,444.79 L94.06,444.05 L94.75,443.32 L95.44,442.58 L96.13,441.85 L96.82,441.11 L97.51,440.38 L98.20,439.64 L98.89,438.91 L99.58,438.17 L100.27,437.44 L100.96,436.70 L101.65,435.97 L102.34,435.23 L103.03,434.50 L103.72,433.76 L104.41,433.03 L105.10,432.29 L105.79,431.56 L106.48,430.82 L107.17,430.09 L107.86,429.35 L108.55,428.62 L109.24,427.88 L109.93,427.15 L110.62,426.41 L111.31,425.68 L112.00,424.94 L112.69,424.21 L113.38,423.47 L114.07,422.74 L114.76,422.00 L115.80,420.90" fill="none" stroke="#606060" stroke-width="1.00" stroke-linejoin="round"/>
<circle cx="66.0" cy="456.0" r="1.0" fill="none" stroke="#8c8c8c" stroke-width="1.0"/>
<circle cx="67.9" cy="453.3" r="1.0" fill="none" stroke="#8c8c8c" stroke-width="1.0"/>
<circle cx="71.0" cy="451.5" r="1.0" fill="none" stroke="#8c8c8c" stroke-width="1.0"/>
<circle cx="74.7" cy="450.7" r="1.0" fill="none" stroke="#8c8c8c" stroke-width="1.0"/>
<circle cx="78.4" cy="451.2" r="1.0" fill="none" stroke="#8c8c8c" stroke-width="1.0"/>
<circle cx="81.5" cy="452.9" r="1.0" fill="none" stroke="#8c8c8c" stroke-width="1.0"/>
<circle cx="83.4" cy="455.4" r="1.0" fill="none" stroke="#8c8c8c" stroke-width="1.0"/>
<circle cx="86.7" cy="449.0" r="1.0" fill="none" stroke="#8c8c8c" stroke-width="1.0"/>
<circle cx="91.1" cy="443.7" r="1.0" fill="none" stroke="#8c8c8c" stroke-width="1.0"/>
<circle cx="95.4" cy="438.3" r="1.0" fill="none" stroke="#8c8c8c" stroke-width="1.0"/>
<circle cx="99.8" cy="433.0" r="1.0" fill="none" stroke="#8c8c8c" stroke-width="1.0"/>
<circle cx="104.1" cy="427.6" r="1.0" fill="none" stroke="#8c8c8c" stroke-width="1.0"/>
<circle cx="108.5" cy="422.3" r="1.0" fill="none" stroke="#8c8c8c" stroke-width="1.0"/>
<circle cx="112.8" cy="416.9" r="1.0" fill="none" stroke="#8c8c8c" stroke-width="1.0"/>
<path d="M70.00,455.00 L70.45,454.09 L70.99,453.23 L71.63,452.45 L72.33,451.74 L73.11,451.10 L73.94,450.54 L74.81,450.05 L75.73,449.63 L76.69,449.30 L77.66,449.03 L78.65,448.85 L79.65,448.73 L80.66,448.70 L81.67,448.74 L82.67,448.85 L83.66,449.05 L84.63,449.33 L85.58,449.68 L86.48,450.14 L87.33,450.70 L88.12,451.38 L88.83,452.12 L89.48,452.84 L90.08,453.39 L90.68,453.63 L91.31,453.51 L91.98,453.05 L92.68,452.38 L93.40,451.62 L94.13,450.85 L94.85,450.11 L95.57,449.39 L96.29,448.68 L97.00,447.97 L97.72,447.26 L98.44,446.55 L99.16,445.84 L99.87,445.13 L100.59,444.42 L101.31,443.71 L102.03,443.00 L102.74,442.29 L103.46,441.58 L104.18,440.87 L104.89,440.16 L105.61,439.45 L106.33,438.74 L107.05,438.03 L107.76,437.32 L108.48,436.62 L109.20,435.91 L109.92,435.20 L110.63,434.49 L111.35,433.78 L112.07,433.07 L112.79,432.36 L113.50,431.65 L114.22,430.94 L114.94,430.23 L115.66,429.52 L116.37,428.81 L117.09,428.10 L117.81,427.39 L118.52,426.68 L119.24,425.97 L119.96,425.26 L120.68,424.55 L121.39,423.84 L122.11,423.14 L122.83,422.43 L123.55,421.72 L124.26,421.01 L124.98,420.30 L125.70,419.59 L126.42,418.88 L127.13,418.17 L127.85,417.46 L128.57,416.75 L129.29,416.04 L130.00,415.33 L130.72,414.62 L131.44,413.91 L132.15,413.20 L132.87,412.49 L133.59,411.78 L134.31,411.07 L135.02,410.36 L136.10,409.30" fill="none" stroke="#55a855" stroke-width="1.00" stroke-linejoin="round"/>
<circle cx="70.0" cy="455.0" r="1.0" fill="none" stroke="#8cc88c" stroke-width="1.0"/>
<circle cx="72.2" cy="451.8" r="1.0" fill="none" stroke="#8cc88c" stroke-width="1.0"/>
<circle cx="75.9" cy="449.6" r="1.0" fill="none" stroke="#8cc88c" stroke-width="1.0"/>
<circle cx="80.2" cy="448.7" r="1.0" fill="none" stroke="#8cc88c" stroke-width="1.0"/>
<circle cx="84.6" cy="449.3" r="1.0" fill="none" stroke="#8cc88c" stroke-width="1.0"/>
<circle cx="88.3" cy="451.3" r="1.0" fill="none" stroke="#8cc88c" stroke-width="1.0"/>
<circle cx="90.5" cy="454.4" r="1.0" fill="none" stroke="#8cc88c" stroke-width="1.0"/>
<circle cx="96.6" cy="451.4" r="1.0" fill="none" stroke="#8cc88c" stroke-width="1.0"/>
<circle cx="101.8" cy="446.4" r="1.0" fill="none" stroke="#8cc88c" stroke-width="1.0"/>
<circle cx="106.9" cy="441.4" r="1.0" fill="none" stroke="#8cc88c" stroke-width="1.0"/>
<circle cx="112.1" cy="436.4" r="1.0" fill="none" stroke="#8cc88c" stroke-width="1.0"/>
<circle cx="117.2" cy="431.3" r="1.0" fill="none" stroke="#8cc88c" stroke-width="1.0"/>
<circle cx="122.4" cy="426.3" r="1.0" fill="none" stroke="#8cc88c" stroke-width="1.0"/>
<circle cx="127.5" cy="421.3" r="1.0" fill="none" stroke="#8cc88c" stroke-width="1.0"/>
<circle cx="132.7" cy="416.3" r="1.0" fill="none" stroke="#8cc88c" stroke-width="1.0"/>
<circle cx="137.8" cy="411.3" r="1.0" fill="none" stroke="#8cc88c" stroke-width="1.0"/>
<path d="M67.40,454.90 L67.84,453.99 L68.33,453.11 L68.87,452.27 L69.46,451.46 L70.09,450.68 L70.76,449.94 L71.48,449.23 L72.22,448.56 L73.00,447.92 L73.81,447.33 L74.64,446.76 L75.50,446.23 L76.37,445.74 L77.27,445.28 L78.18,444.86 L79.10,444.47 L80.04,444.12 L80.99,443.79 L81.96,443.50 L82.93,443.25 L83.91,443.02 L84.89,442.83 L85.88,442.67 L86.88,442.54 L87.88,442.45 L88.88,442.38 L89.89,442.35 L90.89,442.35 L91.89,442.38 L92.90,442.45 L93.90,442.55 L94.89,442.68 L95.88,442.84 L96.87,443.04 L97.85,443.27 L98.81,443.54 L99.77,443.84 L100.72,444.18 L101.65,444.55 L102.57,444.96 L103.47,445.41 L104.35,445.90 L105.20,446.42 L106.03,446.98 L106.84,447.59 L107.61,448.23 L108.34,448.93 L109.03,449.69 L109.67,450.51 L110.26,451.37 L110.82,452.17 L111.37,452.77 L111.94,453.04 L112.55,452.94 L113.21,452.49 L113.91,451.82 L114.62,451.05 L115.34,450.28 L116.05,449.53 L116.76,448.81 L117.47,448.09 L118.18,447.38 L118.89,446.67 L119.59,445.95 L120.30,445.24 L121.01,444.53 L121.72,443.82 L122.43,443.10 L123.49,442.03 L124.20,441.32 L124.90,440.61 L125.61,439.90 L126.32,439.18 L127.03,438.47 L127.74,437.76 L128.44,437.05 L129.15,436.33 L129.86,435.62 L130.57,434.91 L131.28,434.19 L131.99,433.48 L132.69,432.77 L133.40,432.06 L134.11,431.34 L134.82,430.63 L135.53,429.92 L136.23,429.21 L136.94,428.49 L137.65,427.78 L138.36,427.07 L139.07,426.35 L139.77,425.64 L140.48,424.93 L141.19,424.22 L141.90,423.50 L142.61,422.79 L143.31,422.08 L144.02,421.37 L144.73,420.65 L145.44,419.94 L146.15,419.23 L146.86,418.51 L147.56,417.80 L148.27,417.09 L148.98,416.38 L149.69,415.66 L150.40,414.95 L151.10,414.24 L151.81,413.53 L152.52,412.81 L153.23,412.10 L153.94,411.39 L154.64,410.67 L155.35,409.96 L156.06,409.25 L156.77,408.54 L157.48,407.82 L158.18,407.11 L158.89,406.40 L159.60,405.69 L160.31,404.97 L161.02,404.26 L161.72,403.55 L162.43,402.83 L163.14,402.12 L163.85,401.41 L164.56,400.70 L165.27,399.98 L165.97,399.27 L166.68,398.56 L167.39,397.85 L168.10,397.13 L168.81,396.42 L169.51,395.71 L170.22,394.99 L170.93,394.28 L171.64,393.57 L172.70,392.50" fill="none" stroke="#ff6a6a" stroke-width="1.00" stroke-linejoin="round"/>
<circle cx="67.4" cy="454.9" r="1.0" fill="none" stroke="#ff9090" stroke-width="1.0"/>
<circle cx="70.2" cy="450.5" r="1.0" fill="none" stroke="#ff9090" stroke-width="1.0"/>
<circle cx="74.6" cy="446.8" r="1.0" fill="none" stroke="#ff9090" stroke-width="1.0"/>
<circle cx="80.1" cy="444.1" r="1.0" fill="none" stroke="#ff9090" stroke-width="1.0"/>
<circle cx="86.4" cy="442.6" r="1.0" fill="none" stroke="#ff9090" stroke-width="1.0"/>
<circle cx="92.8" cy="442.4" r="1.0" fill="none" stroke="#ff9090" stroke-width="1.0"/>
<circle cx="99.1" cy="443.6" r="1.0" fill="none" stroke="#ff9090" stroke-width="1.0"/>
<circle cx="104.6" cy="446.0" r="1.0" fill="none" stroke="#ff9090" stroke-width="1.0"/>
<circle cx="109.0" cy="449.5" r="1.0" fill="none" stroke="#ff9090" stroke-width="1.0"/>
<circle cx="111.8" cy="453.8" r="1.0" fill="none" stroke="#ff9090" stroke-width="1.0"/>
<circle cx="116.9" cy="446.3" r="1.0" fill="none" stroke="#ff9090" stroke-width="1.0"/>
<circle cx="120.9" cy="442.2" r="1.0" fill="none" stroke="#ff9090" stroke-width="1.0"/>
<circle cx="125.0" cy="436.8" r="1.0" fill="none" stroke="#ff9090" stroke-width="1.0"/>
<circle cx="129.0" cy="431.5" r="1.0" fill="none" stroke="#ff9090" stroke-width="1.0"/>
<circle cx="141.2" cy="419.9" r="1.0" fill="none" stroke="#ff9090" stroke-width="1.0"/>
<circle cx="153.4" cy="413.2" r="1.0" fill="none" stroke="#ff9090" stroke-width="1.0"/>
<circle cx="165.6" cy="407.1" r="1.0" fill="none" stroke="#ff9090" stroke-width="1.0"/>
<circle cx="177.8" cy="401.6" r="1.0" fill="none" stroke="#ff9090" stroke-width="1.0"/>
<path d="M68.60,454.30 L68.98,453.37 L69.37,452.45 L69.79,451.53 L70.22,450.63 L70.68,449.74 L71.16,448.86 L71.66,447.99 L72.18,447.13 L72.73,446.29 L73.29,445.46 L73.87,444.64 L74.47,443.84 L75.08,443.05 L75.72,442.27 L76.37,441.51 L77.04,440.76 L77.72,440.03 L78.42,439.31 L79.14,438.61 L79.87,437.92 L80.61,437.25 L81.37,436.60 L82.14,435.95 L82.93,435.33 L83.72,434.72 L84.53,434.12 L85.35,433.55 L86.18,432.98 L87.02,432.44 L87.87,431.91 L88.73,431.40 L89.60,430.90 L90.48,430.42 L91.37,429.95 L92.27,429.51 L93.18,429.07 L94.09,428.66 L95.01,428.26 L95.94,427.88 L96.87,427.51 L97.81,427.16 L98.76,426.83 L99.71,426.52 L100.67,426.22 L101.63,425.94 L102.60,425.67 L103.57,425.42 L104.54,425.19 L105.52,424.98 L106.51,424.78 L107.49,424.60 L108.48,424.44 L109.47,424.29 L110.47,424.16 L111.46,424.05 L112.46,423.95 L113.46,423.87 L114.46,423.81 L115.47,423.77 L116.47,423.74 L117.47,423.73 L118.47,423.74 L119.48,423.77 L120.48,423.81 L121.48,423.87 L122.48,423.95 L123.48,424.04 L124.47,424.15 L125.47,424.28 L126.46,424.43 L127.45,424.60 L128.43,424.78 L129.42,424.98 L130.39,425.20 L131.37,425.44 L132.34,425.69 L133.30,425.97 L134.26,426.26 L135.22,426.57 L136.17,426.89 L137.11,427.24 L138.04,427.60 L138.97,427.98 L139.89,428.38 L140.80,428.80 L141.70,429.24 L142.60,429.69 L143.48,430.16 L144.36,430.66 L145.22,431.16 L146.07,431.69 L146.91,432.24 L147.74,432.80 L148.56,433.38 L149.37,433.98 L150.16,434.60 L150.93,435.23 L151.69,435.88 L152.44,436.55 L153.17,437.24 L153.89,437.94 L154.58,438.66 L155.26,439.40 L155.93,440.15 L156.57,440.92 L157.19,441.71 L157.79,442.52 L158.37,443.37 L158.92,444.24 L159.44,445.15 L159.94,446.07 L160.42,446.99 L160.89,447.87 L161.36,448.67 L161.85,449.31 L162.36,449.77 L163.20,450.00 L163.81,449.86 L164.47,449.50 L165.16,448.96 L165.88,448.31 L166.61,447.59 L167.35,446.84 L168.09,446.09 L168.83,445.35 L169.56,444.63 L170.30,443.92 L171.03,443.22 L171.76,442.53 L172.48,441.85 L173.21,441.16 L173.94,440.47 L174.67,439.78 L175.40,439.09 L176.13,438.40 L176.85,437.71 L177.58,437.02 L178.31,436.33 L179.04,435.64 L179.77,434.95 L180.50,434.26 L181.22,433.57 L181.95,432.88 L182.68,432.19 L183.41,431.50 L184.14,430.81 L184.87,430.12 L185.59,429.44 L186.32,428.75 L187.05,428.06 L187.78,427.37 L188.51,426.68 L189.24,425.99 L189.96,425.30 L190.69,424.61 L191.42,423.92 L192.15,423.23 L192.88,422.54 L193.61,421.85 L194.34,421.16 L195.06,420.47 L195.79,419.78 L196.52,419.09 L197.25,418.40 L197.98,417.72 L198.71,417.03 L199.43,416.34 L200.16,415.65 L200.89,414.96 L201.62,414.27 L202.35,413.58 L203.08,412.89 L203.80,412.20 L204.53,411.51 L205.26,410.82 L205.99,410.13 L206.72,409.44 L207.45,408.75 L208.17,408.06 L208.90,407.37 L209.63,406.68 L210.36,405.99 L211.09,405.31 L211.82,404.62 L212.54,403.93 L213.27,403.24 L214.00,402.55 L214.73,401.86 L215.46,401.17 L216.19,400.48 L216.92,399.79 L217.64,399.10 L218.37,398.41 L219.10,397.72 L219.83,397.03 L220.56,396.34 L221.29,395.65 L222.01,394.96 L222.74,394.27 L223.47,393.59 L224.20,392.90 L224.93,392.21 L225.66,391.52 L226.38,390.83 L227.11,390.14 L227.84,389.45 L228.57,388.76 L229.30,388.07 L230.03,387.38 L230.75,386.69 L231.48,386.00 L232.21,385.31 L232.94,384.62 L233.67,383.93 L234.40,383.24 L235.12,382.55 L235.85,381.86 L236.58,381.18 L237.31,380.49 L238.04,379.80 L238.77,379.11 L239.50,378.42 L240.22,377.73 L240.95,377.04 L241.68,376.35 L242.41,375.66 L243.14,374.97 L243.87,374.28 L244.59,373.59 L245.32,372.90 L246.05,372.21 L246.78,371.52 L247.51,370.83 L248.60,369.80" fill="none" stroke="#6a6aff" stroke-width="1.00" stroke-linejoin="round"/>
<circle cx="68.6" cy="454.3" r="1.0" fill="none" stroke="#9090ff" stroke-width="1.0"/>
<circle cx="72.1" cy="447.3" r="1.0" fill="none" stroke="#9090ff" stroke-width="1.0"/>
<circle cx="77.0" cy="440.8" r="1.0" fill="none" stroke="#9090ff" stroke-width="1.0"/>
<circle cx="83.1" cy="435.2" r="1.0" fill="none" stroke="#9090ff" stroke-width="1.0"/>
<circle cx="90.3" cy="430.5" r="1.0" fill="none" stroke="#9090ff" stroke-width="1.0"/>
<circle cx="98.2" cy="427.0" r="1.0" fill="none" stroke="#9090ff" stroke-width="1.0"/>
<circle cx="106.8" cy="424.7" r="1.0" fill="none" stroke="#9090ff" stroke-width="1.0"/>
<circle cx="115.6" cy="423.8" r="1.0" fill="none" stroke="#9090ff" stroke-width="1.0"/>
<circle cx="124.4" cy="424.1" r="1.0" fill="none" stroke="#9090ff" stroke-width="1.0"/>
<circle cx="133.0" cy="425.9" r="1.0" fill="none" stroke="#9090ff" stroke-width="1.0"/>
<circle cx="140.9" cy="428.9" r="1.0" fill="none" stroke="#9090ff" stroke-width="1.0"/>
<circle cx="148.1" cy="433.0" r="1.0" fill="none" stroke="#9090ff" stroke-width="1.0"/>
<circle cx="154.2" cy="438.3" r="1.0" fill="none" stroke="#9090ff" stroke-width="1.0"/>
<circle cx="159.1" cy="444.4" r="1.0" fill="none" stroke="#9090ff" stroke-width="1.0"/>
<circle cx="162.6" cy="451.2" r="1.0" fill="none" stroke="#9090ff" stroke-width="1.0"/>
<circle cx="165.9" cy="446.4" r="1.0" fill="none" stroke="#9090ff" stroke-width="1.0"/>
<circle cx="169.3" cy="442.9" r="1.0" fill="none" stroke="#9090ff" stroke-width="1.0"/>
<circle cx="172.8" cy="439.3" r="1.0" fill="none" stroke="#9090ff" stroke-width="1.0"/>
<circle cx="176.4" cy="434.2" r="1.0" fill="none" stroke="#9090ff" stroke-width="1.0"/>
<circle cx="181.5" cy="428.7" r="1.0" fill="none" stroke="#9090ff" stroke-width="1.0"/>
<circle cx="187.2" cy="423.0" r="1.0" fill="none" stroke="#9090ff" stroke-width="1.0"/>
<circle cx="194.7" cy="417.5" r="1.0" fill="none" stroke="#9090ff" stroke-width="1.0"/>
<circle cx="203.3" cy="412.4" r="1.0" fill="none" stroke="#9090ff" stroke-width="1.0"/>
<circle cx="214.0" cy="406.7" r="1.0" fill="none" stroke="#9090ff" stroke-width="1.0"/>
<circle cx="229.7" cy="402.3" r="1.0" fill="none" stroke="#9090ff" stroke-width="1.0"/>
<circle cx="243.1" cy="398.6" r="1.0" fill="none" stroke="#9090ff" stroke-width="1.0"/>
<circle cx="255.3" cy="395.0" r="1.0" fill="none" stroke="#9090ff" stroke-width="1.0"/>
<path d="M333.00,455.50 L333.52,454.62 L334.16,453.84 L334.89,453.14 L335.69,452.53 L336.54,452.00 L337.44,451.55 L338.38,451.18 L339.35,450.89 L340.34,450.66 L341.34,450.51 L342.35,450.42 L343.36,450.40 L344.37,450.45 L345.38,450.56 L346.37,450.75 L347.35,451.01 L348.31,451.35 L349.23,451.79 L350.10,452.34 L350.90,452.99 L351.64,453.66 L352.32,454.21 L352.98,454.52 L353.64,454.49 L354.32,454.12 L355.04,453.50 L355.77,452.78 L356.51,452.02 L357.24,451.28 L357.98,450.57 L358.71,449.87 L359.45,449.18 L360.18,448.48 L360.92,447.78 L361.65,447.09 L362.75,446.04 L363.48,445.34 L364.22,444.65 L364.95,443.95 L365.69,443.25 L366.42,442.56 L367.15,441.86 L367.89,441.16 L368.62,440.47 L369.35,439.77 L370.09,439.07 L370.82,438.37 L371.56,437.68 L372.29,436.98 L373.02,436.28 L373.76,435.59 L374.49,434.89 L375.22,434.19 L375.96,433.50 L376.69,432.80 L377.43,432.10 L378.16,431.41 L378.89,430.71 L379.63,430.01 L380.36,429.31 L381.10,428.62 L381.83,427.92 L382.56,427.22 L383.30,426.53 L384.03,425.83 L384.76,425.13 L385.50,424.44 L386.23,423.74 L386.97,423.04 L387.70,422.35 L388.80,421.30" fill="none" stroke="#5fd3d3" stroke-width="1.00" stroke-linejoin="round"/>
<circle cx="333.0" cy="455.5" r="1.0" fill="none" stroke="#8ce6e6" stroke-width="1.0"/>
<circle cx="334.8" cy="453.2" r="1.0" fill="none" stroke="#8ce6e6" stroke-width="1.0"/>
<circle cx="337.6" cy="451.5" r="1.0" fill="none" stroke="#8ce6e6" stroke-width="1.0"/>
<circle cx="341.1" cy="450.5" r="1.0" fill="none" stroke="#8ce6e6" stroke-width="1.0"/>
<circle cx="344.9" cy="450.5" r="1.0" fill="none" stroke="#8ce6e6" stroke-width="1.0"/>
<circle cx="348.4" cy="451.4" r="1.0" fill="none" stroke="#8ce6e6" stroke-width="1.0"/>
<circle cx="351.2" cy="453.0" r="1.0" fill="none" stroke="#8ce6e6" stroke-width="1.0"/>
<circle cx="353.0" cy="455.3" r="1.0" fill="none" stroke="#8ce6e6" stroke-width="1.0"/>
<circle cx="358.5" cy="452.1" r="1.0" fill="none" stroke="#8ce6e6" stroke-width="1.0"/>
<circle cx="362.9" cy="447.8" r="1.0" fill="none" stroke="#8ce6e6" stroke-width="1.0"/>
<circle cx="367.4" cy="443.6" r="1.0" fill="none" stroke="#8ce6e6" stroke-width="1.0"/>
<circle cx="371.9" cy="439.3" r="1.0" fill="none" stroke="#8ce6e6" stroke-width="1.0"/>
<circle cx="376.4" cy="435.1" r="1.0" fill="none" stroke="#8ce6e6" stroke-width="1.0"/>
<circle cx="380.9" cy="430.8" r="1.0" fill="none" stroke="#8ce6e6" stroke-width="1.0"/>
<circle cx="385.3" cy="426.6" r="1.0" fill="none" stroke="#8ce6e6" stroke-width="1.0"/>
<circle cx="389.8" cy="422.3" r="1.0" fill="none" stroke="#8ce6e6" stroke-width="1.0"/>
<path d="M331.50,455.30 L331.93,454.37 L332.47,453.50 L333.10,452.71 L333.82,452.01 L334.61,451.39 L335.47,450.86 L336.38,450.43 L337.33,450.09 L338.31,449.85 L339.32,449.70 L340.33,449.65 L341.34,449.69 L342.35,449.82 L343.33,450.05 L344.30,450.36 L345.23,450.76 L346.11,451.26 L346.94,451.86 L347.70,452.57 L348.38,453.36 L348.99,454.15 L349.56,454.81 L350.13,455.18 L350.73,455.18 L351.38,454.81 L352.08,454.19 L352.80,453.44 L353.53,452.67 L354.26,451.92 L354.98,451.19 L355.70,450.47 L356.43,449.76 L357.15,449.05 L357.87,448.34 L358.59,447.63 L359.68,446.56 L360.40,445.85 L361.12,445.14 L361.84,444.43 L362.56,443.71 L363.28,443.00 L364.01,442.29 L364.73,441.58 L365.45,440.87 L366.17,440.16 L366.89,439.45 L367.62,438.73 L368.34,438.02 L369.06,437.31 L369.78,436.60 L370.50,435.89 L371.22,435.18 L371.95,434.46 L372.67,433.75 L373.39,433.04 L374.11,432.33 L374.83,431.62 L375.56,430.91 L376.28,430.19 L377.00,429.48 L377.72,428.77 L378.44,428.06 L379.16,427.35 L379.89,426.64 L380.61,425.93 L381.33,425.21 L382.05,424.50 L382.77,423.79 L383.50,423.08 L384.22,422.37 L385.30,421.30" fill="none" stroke="#55a855" stroke-width="1.00" stroke-linejoin="round"/>
<circle cx="331.5" cy="455.3" r="1.0" fill="none" stroke="#8cc88c" stroke-width="1.0"/>
<circle cx="333.2" cy="452.6" r="1.0" fill="none" stroke="#8cc88c" stroke-width="1.0"/>
<circle cx="335.8" cy="450.7" r="1.0" fill="none" stroke="#8cc88c" stroke-width="1.0"/>
<circle cx="339.1" cy="449.7" r="1.0" fill="none" stroke="#8cc88c" stroke-width="1.0"/>
<circle cx="342.5" cy="449.9" r="1.0" fill="none" stroke="#8cc88c" stroke-width="1.0"/>
<circle cx="345.8" cy="451.1" r="1.0" fill="none" stroke="#8cc88c" stroke-width="1.0"/>
<circle cx="348.4" cy="453.2" r="1.0" fill="none" stroke="#8cc88c" stroke-width="1.0"/>
<circle cx="350.1" cy="456.0" r="1.0" fill="none" stroke="#8cc88c" stroke-width="1.0"/>
<circle cx="354.5" cy="451.7" r="1.0" fill="none" stroke="#8cc88c" stroke-width="1.0"/>
<circle cx="358.9" cy="447.3" r="1.0" fill="none" stroke="#8cc88c" stroke-width="1.0"/>
<circle cx="363.3" cy="443.0" r="1.0" fill="none" stroke="#8cc88c" stroke-width="1.0"/>
<circle cx="367.7" cy="438.6" r="1.0" fill="none" stroke="#8cc88c" stroke-width="1.0"/>
<circle cx="372.1" cy="434.3" r="1.0" fill="none" stroke="#8cc88c" stroke-width="1.0"/>
<circle cx="376.5" cy="430.0" r="1.0" fill="none" stroke="#8cc88c" stroke-width="1.0"/>
<circle cx="380.9" cy="425.6" r="1.0" fill="none" stroke="#8cc88c" stroke-width="1.0"/>
<circle cx="385.3" cy="421.3" r="1.0" fill="none" stroke="#8cc88c" stroke-width="1.0"/>
<path d="M331.50,455.50 L331.91,454.56 L332.43,453.69 L333.05,452.89 L333.75,452.17 L334.53,451.54 L335.38,451.00 L336.28,450.55 L337.23,450.20 L338.21,449.95 L339.21,449.80 L340.22,449.75 L341.23,449.80 L342.23,449.95 L343.21,450.19 L344.16,450.53 L345.07,450.97 L345.94,451.51 L346.73,452.16 L347.45,452.91 L348.09,453.72 L348.67,454.47 L349.22,455.01 L349.78,455.21 L350.38,455.01 L351.02,454.49 L351.69,453.77 L352.39,452.97 L353.08,452.17 L353.78,451.40 L354.47,450.65 L355.16,449.91 L355.84,449.17 L356.53,448.43 L357.22,447.69 L358.25,446.57 L358.94,445.83 L359.63,445.09 L360.32,444.35 L361.01,443.61 L361.69,442.87 L362.38,442.13 L363.07,441.38 L363.76,440.64 L364.45,439.90 L365.14,439.16 L365.82,438.42 L366.51,437.68 L367.20,436.94 L367.89,436.20 L368.58,435.45 L369.27,434.71 L369.95,433.97 L370.64,433.23 L371.33,432.49 L372.02,431.75 L372.71,431.01 L373.40,430.27 L374.08,429.52 L374.77,428.78 L375.46,428.04 L376.15,427.30 L376.84,426.56 L377.53,425.82 L378.21,425.08 L378.90,424.34 L379.59,423.59 L380.28,422.85 L380.97,422.11 L382.00,421.00" fill="none" stroke="#606060" stroke-width="1.00" stroke-linejoin="round"/>
<circle cx="331.5" cy="455.5" r="1.0" fill="none" stroke="#8c8c8c" stroke-width="1.0"/>
<circle cx="333.1" cy="452.8" r="1.0" fill="none" stroke="#8c8c8c" stroke-width="1.0"/>
<circle cx="335.6" cy="450.8" r="1.0" fill="none" stroke="#8c8c8c" stroke-width="1.0"/>
<circle cx="338.8" cy="449.8" r="1.0" fill="none" stroke="#8c8c8c" stroke-width="1.0"/>
<circle cx="342.2" cy="449.9" r="1.0" fill="none" stroke="#8c8c8c" stroke-width="1.0"/>
<circle cx="345.4" cy="451.1" r="1.0" fill="none" stroke="#8c8c8c" stroke-width="1.0"/>
<circle cx="347.9" cy="453.2" r="1.0" fill="none" stroke="#8c8c8c" stroke-width="1.0"/>
<circle cx="349.5" cy="456.0" r="1.0" fill="none" stroke="#8c8c8c" stroke-width="1.0"/>
<circle cx="352.3" cy="450.8" r="1.0" fill="none" stroke="#8c8c8c" stroke-width="1.0"/>
<circle cx="356.2" cy="446.6" r="1.0" fill="none" stroke="#8c8c8c" stroke-width="1.0"/>
<circle cx="360.0" cy="442.4" r="1.0" fill="none" stroke="#8c8c8c" stroke-width="1.0"/>
<circle cx="363.9" cy="438.1" r="1.0" fill="none" stroke="#8c8c8c" stroke-width="1.0"/>
<circle cx="367.7" cy="433.9" r="1.0" fill="none" stroke="#8c8c8c" stroke-width="1.0"/>
<circle cx="371.5" cy="429.7" r="1.0" fill="none" stroke="#8c8c8c" stroke-width="1.0"/>
<circle cx="375.4" cy="425.5" r="1.0" fill="none" stroke="#8c8c8c" stroke-width="1.0"/>
<circle cx="379.2" cy="421.3" r="1.0" fill="none" stroke="#8c8c8c" stroke-width="1.0"/>
<path d="M330.70,453.80 L331.06,452.86 L331.45,451.92 L331.88,451.01 L332.34,450.12 L332.84,449.24 L333.37,448.39 L333.94,447.55 L334.54,446.74 L335.17,445.96 L335.83,445.20 L336.52,444.46 L337.24,443.75 L337.99,443.07 L338.76,442.42 L339.55,441.80 L340.37,441.21 L341.20,440.65 L342.06,440.12 L342.94,439.62 L343.83,439.15 L344.74,438.72 L345.67,438.32 L346.61,437.95 L347.56,437.61 L348.52,437.31 L349.49,437.05 L350.47,436.81 L351.46,436.62 L352.46,436.45 L353.46,436.33 L354.46,436.23 L355.47,436.18 L356.48,436.16 L357.49,436.17 L358.49,436.22 L359.50,436.30 L360.50,436.42 L361.49,436.58 L362.48,436.77 L363.47,437.00 L364.44,437.26 L365.41,437.55 L366.36,437.89 L367.30,438.25 L368.22,438.65 L369.13,439.09 L370.03,439.56 L370.90,440.06 L371.76,440.59 L372.59,441.16 L373.40,441.76 L374.19,442.39 L374.95,443.05 L375.69,443.73 L376.74,444.82 L377.40,445.58 L378.03,446.37 L378.63,447.18 L379.19,448.04 L379.71,448.94 L380.18,449.89 L380.62,450.82 L381.07,451.63 L381.55,452.18 L382.11,452.37 L382.76,452.19 L383.48,451.70 L384.25,451.04 L385.03,450.32 L385.81,449.62 L386.58,448.93 L387.35,448.27 L388.11,447.62 L388.88,446.96 L389.65,446.31 L390.41,445.65 L391.18,445.00 L391.95,444.34 L392.72,443.69 L393.48,443.03 L394.25,442.38 L395.02,441.72 L395.78,441.06 L396.55,440.41 L397.32,439.75 L398.08,439.10 L398.85,438.44 L399.62,437.79 L400.38,437.13 L401.15,436.48 L401.92,435.82 L402.68,435.17 L403.45,434.51 L404.22,433.86 L404.98,433.20 L405.75,432.55 L406.52,431.89 L407.28,431.24 L408.05,430.58 L408.82,429.93 L409.58,429.27 L410.35,428.61 L411.12,427.96 L411.88,427.30 L412.65,426.65 L413.42,425.99 L414.18,425.34 L414.95,424.68 L416.10,423.70" fill="none" stroke="#ff6a6a" stroke-width="1.00" stroke-linejoin="round"/>
<circle cx="330.7" cy="453.8" r="1.0" fill="none" stroke="#ff9090" stroke-width="1.0"/>
<circle cx="334.0" cy="447.5" r="1.0" fill="none" stroke="#ff9090" stroke-width="1.0"/>
<circle cx="339.0" cy="442.2" r="1.0" fill="none" stroke="#ff9090" stroke-width="1.0"/>
<circle cx="345.3" cy="438.5" r="1.0" fill="none" stroke="#ff9090" stroke-width="1.0"/>
<circle cx="352.5" cy="436.4" r="1.0" fill="none" stroke="#ff9090" stroke-width="1.0"/>
<circle cx="359.9" cy="436.3" r="1.0" fill="none" stroke="#ff9090" stroke-width="1.0"/>
<circle cx="367.1" cy="438.2" r="1.0" fill="none" stroke="#ff9090" stroke-width="1.0"/>
<circle cx="373.4" cy="441.8" r="1.0" fill="none" stroke="#ff9090" stroke-width="1.0"/>
<circle cx="378.4" cy="446.9" r="1.0" fill="none" stroke="#ff9090" stroke-width="1.0"/>
<circle cx="381.7" cy="453.1" r="1.0" fill="none" stroke="#ff9090" stroke-width="1.0"/>
<circle cx="386.0" cy="449.5" r="1.0" fill="none" stroke="#ff9090" stroke-width="1.0"/>
<circle cx="391.0" cy="447.4" r="1.0" fill="none" stroke="#ff9090" stroke-width="1.0"/>
<circle cx="396.7" cy="445.2" r="1.0" fill="none" stroke="#ff9090" stroke-width="1.0"/>
<circle cx="401.8" cy="441.6" r="1.0" fill="none" stroke="#ff9090" stroke-width="1.0"/>
<circle cx="406.1" cy="439.9" r="1.0" fill="none" stroke="#ff9090" stroke-width="1.0"/>
<circle cx="410.4" cy="438.1" r="1.0" fill="none" stroke="#ff9090" stroke-width="1.0"/>
<circle cx="416.1" cy="430.9" r="1.0" fill="none" stroke="#ff9090" stroke-width="1.0"/>
<path d="M329.30,454.60 L329.64,453.66 L329.97,452.71 L330.33,451.77 L330.70,450.84 L331.09,449.92 L331.49,449.00 L331.91,448.09 L332.34,447.19 L332.79,446.29 L333.25,445.40 L333.73,444.52 L334.23,443.65 L334.74,442.79 L335.26,441.94 L335.80,441.09 L336.35,440.26 L336.92,439.43 L337.50,438.61 L338.09,437.81 L338.70,437.01 L339.32,436.22 L339.95,435.45 L340.60,434.68 L341.26,433.93 L341.93,433.18 L342.62,432.45 L343.31,431.73 L344.02,431.02 L344.74,430.33 L345.47,429.64 L346.21,428.97 L346.97,428.31 L347.73,427.66 L348.51,427.02 L349.29,426.40 L350.09,425.79 L350.89,425.20 L351.71,424.61 L352.53,424.04 L353.37,423.49 L354.21,422.95 L355.06,422.42 L355.92,421.91 L356.79,421.41 L357.67,420.92 L358.55,420.45 L359.44,419.99 L360.34,419.55 L361.25,419.13 L362.16,418.71 L363.08,418.32 L364.01,417.94 L364.94,417.57 L365.88,417.22 L366.83,416.89 L367.78,416.57 L368.73,416.26 L369.69,415.98 L370.65,415.70 L371.62,415.45 L372.60,415.21 L373.57,414.99 L374.55,414.78 L375.54,414.59 L376.52,414.42 L377.51,414.26 L378.51,414.12 L379.50,414.00 L380.50,413.89 L381.50,413.80 L382.49,413.73 L383.50,413.67 L384.50,413.63 L385.50,413.61 L386.50,413.61 L387.50,413.62 L388.50,413.65 L389.50,413.70 L390.50,413.77 L391.50,413.85 L392.50,413.95 L393.49,414.07 L394.49,414.20 L395.48,414.35 L396.47,414.52 L397.45,414.71 L398.43,414.91 L399.41,415.13 L400.38,415.37 L401.35,415.63 L402.31,415.90 L403.27,416.19 L404.23,416.50 L405.17,416.83 L406.12,417.17 L407.05,417.53 L407.98,417.91 L408.90,418.30 L409.82,418.71 L410.72,419.14 L411.62,419.58 L412.51,420.04 L413.39,420.51 L414.26,421.01 L415.13,421.52 L415.98,422.04 L416.83,422.58 L417.66,423.14 L418.48,423.71 L419.29,424.29 L420.09,424.90 L420.88,425.51 L421.66,426.14 L422.43,426.79 L423.18,427.45 L423.92,428.13 L424.65,428.82 L425.36,429.52 L426.06,430.23 L426.75,430.96 L427.42,431.71 L428.08,432.46 L428.73,433.23 L429.66,434.40 L430.27,435.20 L430.86,436.01 L431.44,436.83 L432.00,437.66 L432.54,438.50 L433.07,439.35 L433.58,440.22 L434.07,441.12 L434.53,442.03 L434.98,442.98 L435.41,443.94 L435.81,444.91 L436.21,445.85 L436.62,446.72 L437.03,447.47 L437.48,448.04 L437.98,448.39 L438.52,448.50 L439.12,448.35 L439.77,447.99 L440.45,447.46 L441.17,446.80 L441.90,446.07 L442.64,445.32 L443.38,444.57 L444.12,443.83 L444.85,443.10 L445.58,442.39 L446.31,441.70 L447.03,441.01 L447.76,440.31 L448.49,439.62 L449.21,438.93 L449.94,438.24 L450.66,437.55 L451.39,436.86 L452.11,436.17 L452.84,435.48 L453.57,434.79 L454.29,434.10 L455.02,433.40 L455.74,432.71 L456.47,432.02 L457.20,431.33 L457.92,430.64 L458.65,429.95 L459.37,429.26 L460.10,428.57 L460.82,427.88 L461.55,427.19 L462.28,426.50 L463.00,425.80 L463.73,425.11 L464.45,424.42 L465.18,423.73 L465.91,423.04 L466.63,422.35 L467.36,421.66 L468.08,420.97 L468.81,420.28 L469.53,419.59 L470.26,418.89 L470.99,418.20 L471.71,417.51 L472.44,416.82 L473.16,416.13 L473.89,415.44 L474.62,414.75 L475.34,414.06 L476.07,413.37 L476.79,412.68 L477.52,411.98 L478.24,411.29 L478.97,410.60 L479.70,409.91 L480.42,409.22 L481.15,408.53 L481.87,407.84 L482.60,407.15 L483.33,406.46 L484.05,405.77 L484.78,405.08 L485.50,404.38 L486.23,403.69 L486.95,403.00 L487.68,402.31 L488.41,401.62 L489.13,400.93 L489.86,400.24 L490.58,399.55 L491.31,398.86 L492.04,398.17 L492.76,397.47 L493.49,396.78 L494.21,396.09 L494.94,395.40 L495.67,394.71 L496.39,394.02 L497.12,393.33 L497.84,392.64 L498.57,391.95 L499.29,391.26 L500.02,390.56 L500.75,389.87 L501.47,389.18 L502.20,388.49 L502.92,387.80 L503.65,387.11 L504.38,386.42 L505.10,385.73 L505.83,385.04 L506.55,384.35 L507.28,383.66 L508.00,382.96 L508.73,382.27 L509.46,381.58 L510.18,380.89 L510.91,380.20 L511.63,379.51 L512.36,378.82 L513.09,378.13 L513.81,377.44 L514.90,376.40" fill="none" stroke="#6a6aff" stroke-width="1.00" stroke-linejoin="round"/>
<circle cx="329.3" cy="454.6" r="1.0" fill="none" stroke="#9090ff" stroke-width="1.0"/>
<circle cx="333.3" cy="445.2" r="1.0" fill="none" stroke="#9090ff" stroke-width="1.0"/>
<circle cx="339.0" cy="436.6" r="1.0" fill="none" stroke="#9090ff" stroke-width="1.0"/>
<circle cx="346.0" cy="429.1" r="1.0" fill="none" stroke="#9090ff" stroke-width="1.0"/>
<circle cx="354.3" cy="422.9" r="1.0" fill="none" stroke="#9090ff" stroke-width="1.0"/>
<circle cx="363.5" cy="418.1" r="1.0" fill="none" stroke="#9090ff" stroke-width="1.0"/>
<circle cx="373.4" cy="415.0" r="1.0" fill="none" stroke="#9090ff" stroke-width="1.0"/>
<circle cx="383.6" cy="413.6" r="1.0" fill="none" stroke="#9090ff" stroke-width="1.0"/>
<circle cx="393.8" cy="414.1" r="1.0" fill="none" stroke="#9090ff" stroke-width="1.0"/>
<circle cx="403.7" cy="416.3" r="1.0" fill="none" stroke="#9090ff" stroke-width="1.0"/>
<circle cx="412.9" cy="420.2" r="1.0" fill="none" stroke="#9090ff" stroke-width="1.0"/>
<circle cx="421.2" cy="425.7" r="1.0" fill="none" stroke="#9090ff" stroke-width="1.0"/>
<circle cx="428.2" cy="432.6" r="1.0" fill="none" stroke="#9090ff" stroke-width="1.0"/>
<circle cx="433.9" cy="440.7" r="1.0" fill="none" stroke="#9090ff" stroke-width="1.0"/>
<circle cx="437.9" cy="449.7" r="1.0" fill="none" stroke="#9090ff" stroke-width="1.0"/>
<circle cx="442.5" cy="445.5" r="1.0" fill="none" stroke="#9090ff" stroke-width="1.0"/>
<circle cx="445.2" cy="442.7" r="1.0" fill="none" stroke="#9090ff" stroke-width="1.0"/>
<circle cx="448.3" cy="438.7" r="1.0" fill="none" stroke="#9090ff" stroke-width="1.0"/>
<circle cx="452.6" cy="433.6" r="1.0" fill="none" stroke="#9090ff" stroke-width="1.0"/>
<circle cx="456.8" cy="427.2" r="1.0" fill="none" stroke="#9090ff" stroke-width="1.0"/>
<circle cx="463.0" cy="420.9" r="1.0" fill="none" stroke="#9090ff" stroke-width="1.0"/>
<circle cx="470.3" cy="414.3" r="1.0" fill="none" stroke="#9090ff" stroke-width="1.0"/>
<circle cx="481.0" cy="408.5" r="1.0" fill="none" stroke="#9090ff" stroke-width="1.0"/>
<circle cx="496.0" cy="403.3" r="1.0" fill="none" stroke="#9090ff" stroke-width="1.0"/>
<circle cx="509.9" cy="400.6" r="1.0" fill="none" stroke="#9090ff" stroke-width="1.0"/>
<circle cx="522.2" cy="397.8" r="1.0" fill="none" stroke="#9090ff" stroke-width="1.0"/>
<path d="M622.50,450.30 L623.28,449.67 L624.11,449.09 L624.96,448.57 L625.84,448.09 L626.75,447.66 L627.67,447.27 L628.61,446.93 L629.57,446.63 L630.54,446.37 L631.52,446.14 L632.51,445.96 L633.50,445.81 L634.50,445.70 L635.50,445.62 L636.50,445.58 L637.51,445.57 L638.51,445.59 L639.51,445.64 L640.51,445.73 L641.51,445.85 L642.50,446.00 L643.49,446.18 L644.47,446.40 L645.44,446.65 L646.41,446.93 L647.36,447.25 L648.30,447.60 L649.22,447.99 L650.13,448.42 L651.03,448.92 L651.90,449.47 L652.74,450.07 L653.55,450.63 L654.33,451.06 L655.07,451.23 L655.79,451.08 L656.49,450.62 L657.17,449.96 L657.86,449.19 L658.54,448.41 L659.23,447.64 L659.92,446.90 L660.61,446.17 L661.30,445.44 L661.99,444.71 L662.67,443.98 L663.36,443.24 L664.05,442.51 L664.74,441.78 L665.43,441.05 L666.12,440.32 L666.81,439.59 L667.50,438.86 L668.19,438.13 L668.87,437.40 L669.56,436.67 L670.25,435.94 L670.94,435.21 L671.63,434.48 L672.32,433.75 L673.01,433.02 L673.70,432.29 L674.39,431.56 L675.07,430.83 L675.76,430.10 L676.45,429.37 L677.14,428.64 L677.83,427.91 L678.52,427.18 L679.21,426.45 L679.90,425.72 L680.59,424.99 L681.28,424.25 L681.96,423.52 L682.65,422.79 L683.34,422.06 L684.03,421.33 L684.72,420.60 L685.41,419.87 L686.10,419.14 L686.79,418.41 L687.48,417.68 L688.16,416.95 L688.85,416.22 L689.54,415.49 L690.23,414.76 L690.92,414.03 L691.61,413.30 L692.30,412.57 L692.99,411.84 L693.68,411.11 L694.36,410.38 L695.05,409.65 L695.74,408.92 L696.43,408.19 L697.12,407.46 L697.81,406.73 L698.50,406.00 L699.19,405.26 L699.88,404.53 L700.56,403.80 L701.25,403.07 L701.94,402.34 L702.63,401.61 L703.32,400.88 L704.01,400.15 L704.70,399.42 L705.39,398.69 L706.08,397.96 L706.76,397.23 L707.45,396.50 L708.14,395.77 L708.83,395.04 L709.52,394.31 L710.21,393.58 L710.90,392.85 L711.59,392.12 L712.28,391.39 L712.96,390.66 L713.65,389.93 L714.34,389.20 L715.03,388.47 L715.72,387.74 L716.41,387.01 L717.10,386.27 L717.79,385.54 L718.48,384.81 L719.17,384.08 L719.85,383.35 L720.54,382.62 L721.23,381.89 L721.92,381.16 L722.61,380.43 L723.30,379.70 L723.99,378.97 L724.68,378.24 L725.37,377.51 L726.05,376.78 L726.74,376.05 L727.43,375.32 L728.12,374.59 L728.81,373.86 L729.50,373.13 L730.19,372.40 L730.88,371.67 L731.57,370.94 L732.25,370.21 L732.94,369.48 L733.63,368.75 L734.32,368.01 L735.01,367.28 L735.70,366.55 L736.39,365.82 L737.08,365.09 L737.77,364.36 L738.45,363.63 L739.14,362.90 L739.83,362.17 L740.52,361.44 L741.21,360.71 L741.90,359.98 L742.59,359.25 L743.28,358.52 L743.97,357.79 L744.65,357.06 L745.34,356.33 L746.03,355.60 L746.72,354.87 L747.41,354.14 L748.10,353.41 L748.79,352.68 L749.48,351.95 L750.17,351.22 L750.85,350.49 L751.54,349.76 L752.23,349.02 L752.92,348.29 L753.61,347.56 L754.30,346.83 L754.99,346.10 L755.68,345.37 L756.37,344.64 L757.06,343.91 L757.74,343.18 L758.43,342.45 L759.12,341.72 L759.81,340.99 L760.50,340.26 L761.19,339.53 L761.88,338.80 L762.57,338.07 L763.26,337.34 L763.94,336.61 L764.63,335.88 L765.32,335.15 L766.01,334.42 L766.70,333.69 L767.39,332.96 L768.08,332.23 L768.77,331.50 L769.80,330.40" fill="none" stroke="#5fd3d3" stroke-width="1.00" stroke-linejoin="round"/>
<circle cx="622.5" cy="450.3" r="1.0" fill="none" stroke="#8ce6e6" stroke-width="1.0"/>
<circle cx="625.7" cy="448.2" r="1.0" fill="none" stroke="#8ce6e6" stroke-width="1.0"/>
<circle cx="629.6" cy="446.6" r="1.0" fill="none" stroke="#8ce6e6" stroke-width="1.0"/>
<circle cx="634.1" cy="445.7" r="1.0" fill="none" stroke="#8ce6e6" stroke-width="1.0"/>
<circle cx="638.9" cy="445.6" r="1.0" fill="none" stroke="#8ce6e6" stroke-width="1.0"/>
<circle cx="643.6" cy="446.2" r="1.0" fill="none" stroke="#8ce6e6" stroke-width="1.0"/>
<circle cx="648.1" cy="447.5" r="1.0" fill="none" stroke="#8ce6e6" stroke-width="1.0"/>
<circle cx="652.0" cy="449.4" r="1.0" fill="none" stroke="#8ce6e6" stroke-width="1.0"/>
<circle cx="655.2" cy="451.9" r="1.0" fill="none" stroke="#8ce6e6" stroke-width="1.0"/>
<circle cx="706.7" cy="389.4" r="1.0" fill="none" stroke="#8ce6e6" stroke-width="1.0"/>
<circle cx="720.4" cy="368.8" r="1.0" fill="none" stroke="#8ce6e6" stroke-width="1.0"/>
<circle cx="740.0" cy="343.1" r="1.0" fill="none" stroke="#8ce6e6" stroke-width="1.0"/>
<circle cx="766.4" cy="312.3" r="1.0" fill="none" stroke="#8ce6e6" stroke-width="1.0"/>
<circle cx="662.0" cy="440.0" r="1.0" fill="none" stroke="#8ce6e6" stroke-width="1.0"/>
<circle cx="672.0" cy="430.0" r="1.0" fill="none" stroke="#8ce6e6" stroke-width="1.0"/>
<path d="M612.70,451.90 L613.33,451.12 L614.00,450.37 L614.70,449.65 L615.43,448.96 L616.19,448.31 L616.98,447.70 L617.80,447.12 L618.64,446.58 L619.51,446.08 L620.40,445.61 L621.31,445.19 L622.23,444.80 L623.17,444.46 L624.13,444.15 L625.09,443.88 L626.07,443.66 L627.06,443.47 L628.05,443.33 L629.05,443.23 L630.05,443.17 L631.05,443.15 L632.05,443.18 L633.05,443.24 L634.05,443.35 L635.04,443.50 L636.02,443.69 L637.00,443.92 L637.96,444.20 L638.92,444.51 L639.85,444.87 L640.77,445.27 L641.67,445.71 L642.55,446.19 L643.41,446.71 L644.24,447.28 L645.05,447.91 L645.82,448.60 L646.55,449.33 L647.26,450.00 L647.95,450.50 L648.63,450.70 L649.30,450.54 L649.99,450.07 L650.68,449.39 L651.38,448.63 L652.08,447.85 L652.77,447.10 L653.47,446.36 L654.17,445.64 L654.86,444.92 L655.56,444.20 L656.26,443.48 L656.96,442.76 L657.65,442.04 L658.35,441.32 L659.05,440.59 L659.74,439.87 L660.44,439.15 L661.14,438.43 L661.83,437.71 L662.53,436.99 L663.23,436.27 L663.93,435.55 L664.62,434.83 L665.32,434.11 L666.02,433.39 L666.71,432.66 L667.41,431.94 L668.11,431.22 L668.80,430.50 L669.50,429.78 L670.20,429.06 L670.90,428.34 L671.59,427.62 L672.29,426.90 L672.99,426.18 L673.68,425.46 L674.38,424.73 L675.08,424.01 L675.77,423.29 L676.47,422.57 L677.17,421.85 L677.87,421.13 L678.56,420.41 L679.26,419.69 L679.96,418.97 L680.65,418.25 L681.35,417.53 L682.05,416.80 L682.74,416.08 L683.44,415.36 L684.14,414.64 L684.83,413.92 L685.53,413.20 L686.23,412.48 L686.93,411.76 L687.62,411.04 L688.32,410.32 L689.02,409.60 L689.71,408.87 L690.41,408.15 L691.46,407.07 L692.15,406.35 L692.85,405.63 L693.55,404.91 L694.24,404.19 L694.94,403.47 L695.64,402.75 L696.34,402.03 L697.03,401.31 L697.73,400.58 L698.43,399.86 L699.12,399.14 L699.82,398.42 L700.52,397.70 L701.21,396.98 L701.91,396.26 L702.61,395.54 L703.30,394.82 L704.00,394.10 L704.70,393.38 L705.40,392.65 L706.09,391.93 L706.79,391.21 L707.49,390.49 L708.18,389.77 L708.88,389.05 L709.58,388.33 L710.27,387.61 L710.97,386.89 L711.67,386.17 L712.37,385.45 L713.06,384.72 L713.76,384.00 L714.46,383.28 L715.15,382.56 L715.85,381.84 L716.55,381.12 L717.24,380.40 L717.94,379.68 L718.64,378.96 L719.34,378.24 L720.03,377.52 L720.73,376.79 L721.43,376.07 L722.12,375.35 L722.82,374.63 L723.52,373.91 L724.21,373.19 L724.91,372.47 L725.61,371.75 L726.31,371.03 L727.00,370.31 L727.70,369.59 L728.40,368.86 L729.09,368.14 L729.79,367.42 L730.49,366.70 L731.18,365.98 L731.88,365.26 L732.58,364.54 L733.28,363.82 L733.97,363.10 L734.67,362.38 L735.37,361.66 L736.06,360.93 L736.76,360.21 L737.46,359.49 L738.15,358.77 L738.85,358.05 L739.55,357.33 L740.25,356.61 L740.94,355.89 L741.64,355.17 L742.34,354.45 L743.03,353.73 L743.73,353.00 L744.43,352.28 L745.12,351.56 L745.82,350.84 L746.52,350.12 L747.21,349.40 L747.91,348.68 L748.61,347.96 L749.31,347.24 L750.00,346.52 L750.70,345.80 L751.40,345.07 L752.09,344.35 L752.79,343.63 L753.49,342.91 L754.18,342.19 L754.88,341.47 L755.58,340.75 L756.28,340.03 L756.97,339.31 L757.67,338.59 L758.37,337.87 L759.06,337.14 L759.76,336.42 L760.46,335.70 L761.15,334.98 L762.20,333.90" fill="none" stroke="#606060" stroke-width="1.00" stroke-linejoin="round"/>
<circle cx="612.7" cy="451.9" r="1.0" fill="none" stroke="#8c8c8c" stroke-width="1.0"/>
<circle cx="615.8" cy="448.7" r="1.0" fill="none" stroke="#8c8c8c" stroke-width="1.0"/>
<circle cx="619.5" cy="446.1" r="1.0" fill="none" stroke="#8c8c8c" stroke-width="1.0"/>
<circle cx="623.8" cy="444.3" r="1.0" fill="none" stroke="#8c8c8c" stroke-width="1.0"/>
<circle cx="628.3" cy="443.3" r="1.0" fill="none" stroke="#8c8c8c" stroke-width="1.0"/>
<circle cx="633.0" cy="443.2" r="1.0" fill="none" stroke="#8c8c8c" stroke-width="1.0"/>
<circle cx="637.5" cy="444.1" r="1.0" fill="none" stroke="#8c8c8c" stroke-width="1.0"/>
<circle cx="641.8" cy="445.8" r="1.0" fill="none" stroke="#8c8c8c" stroke-width="1.0"/>
<circle cx="645.5" cy="448.2" r="1.0" fill="none" stroke="#8c8c8c" stroke-width="1.0"/>
<circle cx="648.6" cy="451.4" r="1.0" fill="none" stroke="#8c8c8c" stroke-width="1.0"/>
<circle cx="692.0" cy="403.1" r="1.0" fill="none" stroke="#8c8c8c" stroke-width="1.0"/>
<circle cx="704.0" cy="392.1" r="1.0" fill="none" stroke="#8c8c8c" stroke-width="1.0"/>
<circle cx="719.4" cy="373.3" r="1.0" fill="none" stroke="#8c8c8c" stroke-width="1.0"/>
<circle cx="739.3" cy="352.7" r="1.0" fill="none" stroke="#8c8c8c" stroke-width="1.0"/>
<circle cx="765.0" cy="328.4" r="1.0" fill="none" stroke="#8c8c8c" stroke-width="1.0"/>
<circle cx="656.0" cy="440.0" r="1.0" fill="none" stroke="#8c8c8c" stroke-width="1.0"/>
<circle cx="668.0" cy="427.0" r="1.0" fill="none" stroke="#8c8c8c" stroke-width="1.0"/>
<circle cx="680.0" cy="416.0" r="1.0" fill="none" stroke="#8c8c8c" stroke-width="1.0"/>
<path d="M598.80,451.90 L599.36,451.06 L599.94,450.25 L600.56,449.46 L601.22,448.70 L601.90,447.97 L602.61,447.26 L603.36,446.59 L604.13,445.95 L604.93,445.34 L605.75,444.78 L606.60,444.25 L607.48,443.75 L608.38,443.30 L609.29,442.90 L610.23,442.53 L611.18,442.22 L612.14,441.94 L613.12,441.72 L614.11,441.54 L615.10,441.41 L616.10,441.33 L617.10,441.31 L618.11,441.33 L619.11,441.40 L620.10,441.51 L621.09,441.68 L622.07,441.90 L623.04,442.16 L623.99,442.47 L624.93,442.82 L625.85,443.22 L626.75,443.66 L627.63,444.15 L628.48,444.67 L629.32,445.23 L630.12,445.83 L630.90,446.46 L631.65,447.14 L632.36,447.87 L633.04,448.66 L633.69,449.47 L634.32,450.24 L634.93,450.84 L635.55,451.14 L636.19,451.08 L636.86,450.68 L637.55,450.03 L638.25,449.28 L638.95,448.50 L639.66,447.74 L640.36,447.00 L641.06,446.28 L641.75,445.56 L642.45,444.84 L643.15,444.12 L643.85,443.40 L644.55,442.68 L645.25,441.96 L645.95,441.24 L646.64,440.52 L647.34,439.80 L648.04,439.08 L648.74,438.36 L649.44,437.65 L650.14,436.93 L650.84,436.21 L651.54,435.49 L652.23,434.77 L652.93,434.05 L653.63,433.33 L654.33,432.61 L655.03,431.89 L655.73,431.17 L656.43,430.45 L657.13,429.73 L657.82,429.01 L658.52,428.29 L659.22,427.57 L659.92,426.85 L660.62,426.13 L661.32,425.41 L662.02,424.69 L662.72,423.97 L663.41,423.25 L664.11,422.53 L665.16,421.45 L665.86,420.73 L666.56,420.01 L667.26,419.29 L667.96,418.57 L668.65,417.85 L669.35,417.13 L670.05,416.41 L670.75,415.69 L671.45,414.98 L672.15,414.26 L672.85,413.54 L673.55,412.82 L674.24,412.10 L674.94,411.38 L675.64,410.66 L676.34,409.94 L677.04,409.22 L677.74,408.50 L678.44,407.78 L679.14,407.06 L679.83,406.34 L680.53,405.62 L681.23,404.90 L681.93,404.18 L682.63,403.46 L683.33,402.74 L684.03,402.02 L684.73,401.30 L685.42,400.58 L686.12,399.86 L686.82,399.14 L687.52,398.42 L688.22,397.70 L688.92,396.98 L689.62,396.26 L690.31,395.54 L691.01,394.82 L691.71,394.10 L692.41,393.38 L693.11,392.67 L693.81,391.95 L694.51,391.23 L695.21,390.51 L695.90,389.79 L696.60,389.07 L697.30,388.35 L698.00,387.63 L698.70,386.91 L699.40,386.19 L700.10,385.47 L700.80,384.75 L701.49,384.03 L702.19,383.31 L702.89,382.59 L703.59,381.87 L704.29,381.15 L704.99,380.43 L705.69,379.71 L706.39,378.99 L707.08,378.27 L707.78,377.55 L708.48,376.83 L709.18,376.11 L709.88,375.39 L710.58,374.67 L711.28,373.95 L711.98,373.23 L712.67,372.51 L713.37,371.79 L714.07,371.07 L714.77,370.36 L715.47,369.64 L716.17,368.92 L716.87,368.20 L717.56,367.48 L718.26,366.76 L718.96,366.04 L719.66,365.32 L720.36,364.60 L721.06,363.88 L721.76,363.16 L722.46,362.44 L723.15,361.72 L723.85,361.00 L724.55,360.28 L725.60,359.20" fill="none" stroke="#55a855" stroke-width="1.00" stroke-linejoin="round"/>
<circle cx="598.8" cy="451.9" r="1.0" fill="none" stroke="#8cc88c" stroke-width="1.0"/>
<circle cx="601.9" cy="447.9" r="1.0" fill="none" stroke="#8cc88c" stroke-width="1.0"/>
<circle cx="605.8" cy="444.8" r="1.0" fill="none" stroke="#8cc88c" stroke-width="1.0"/>
<circle cx="610.1" cy="442.6" r="1.0" fill="none" stroke="#8cc88c" stroke-width="1.0"/>
<circle cx="614.8" cy="441.4" r="1.0" fill="none" stroke="#8cc88c" stroke-width="1.0"/>
<circle cx="619.6" cy="441.4" r="1.0" fill="none" stroke="#8cc88c" stroke-width="1.0"/>
<circle cx="624.3" cy="442.6" r="1.0" fill="none" stroke="#8cc88c" stroke-width="1.0"/>
<circle cx="628.6" cy="444.8" r="1.0" fill="none" stroke="#8cc88c" stroke-width="1.0"/>
<circle cx="632.5" cy="447.9" r="1.0" fill="none" stroke="#8cc88c" stroke-width="1.0"/>
<circle cx="635.6" cy="451.9" r="1.0" fill="none" stroke="#8cc88c" stroke-width="1.0"/>
<circle cx="643.0" cy="440.0" r="1.0" fill="none" stroke="#8cc88c" stroke-width="1.0"/>
<circle cx="652.0" cy="428.0" r="1.0" fill="none" stroke="#8cc88c" stroke-width="1.0"/>
<circle cx="662.0" cy="418.0" r="1.0" fill="none" stroke="#8cc88c" stroke-width="1.0"/>
<circle cx="672.0" cy="410.0" r="1.0" fill="none" stroke="#8cc88c" stroke-width="1.0"/>
<circle cx="682.7" cy="403.1" r="1.0" fill="none" stroke="#8cc88c" stroke-width="1.0"/>
<circle cx="693.0" cy="392.1" r="1.0" fill="none" stroke="#8cc88c" stroke-width="1.0"/>
<circle cx="705.7" cy="375.0" r="1.0" fill="none" stroke="#8cc88c" stroke-width="1.0"/>
<circle cx="721.1" cy="350.0" r="1.0" fill="none" stroke="#8cc88c" stroke-width="1.0"/>
<path d="M591.40,451.10 L591.91,450.24 L592.44,449.38 L592.98,448.54 L593.53,447.70 L594.10,446.88 L594.69,446.07 L595.29,445.27 L595.91,444.48 L596.54,443.70 L597.19,442.94 L597.86,442.19 L598.54,441.45 L599.23,440.73 L599.94,440.02 L600.67,439.33 L601.41,438.65 L602.16,438.00 L602.93,437.35 L603.71,436.73 L604.51,436.12 L605.32,435.53 L606.15,434.96 L606.98,434.41 L607.83,433.88 L608.70,433.37 L609.57,432.88 L610.46,432.41 L611.36,431.97 L612.27,431.55 L613.19,431.15 L614.11,430.78 L615.05,430.42 L616.00,430.10 L616.96,429.80 L617.92,429.52 L618.89,429.27 L619.87,429.05 L620.85,428.85 L621.84,428.69 L622.83,428.54 L623.83,428.43 L624.83,428.34 L625.83,428.29 L626.83,428.25 L627.83,428.25 L628.83,428.28 L629.83,428.33 L630.83,428.41 L631.83,428.52 L632.82,428.66 L633.81,428.83 L634.79,429.02 L635.77,429.24 L636.74,429.49 L637.70,429.76 L638.66,430.06 L639.61,430.39 L640.55,430.74 L641.47,431.12 L642.39,431.52 L643.30,431.95 L644.20,432.40 L645.08,432.87 L645.95,433.37 L646.81,433.88 L647.65,434.42 L648.49,434.98 L649.30,435.56 L650.11,436.16 L650.89,436.78 L651.67,437.42 L652.43,438.07 L653.17,438.75 L653.90,439.44 L654.61,440.14 L655.30,440.86 L655.98,441.60 L656.64,442.35 L657.29,443.12 L657.92,443.90 L658.53,444.71 L659.12,445.56 L659.69,446.44 L660.25,447.30 L660.81,448.04 L661.39,448.53 L662.01,448.67 L662.67,448.44 L663.36,447.91 L664.08,447.21 L664.80,446.46 L665.53,445.71 L666.25,444.98 L666.97,444.28 L667.69,443.58 L668.41,442.88 L669.13,442.18 L669.85,441.48 L670.57,440.78 L671.28,440.08 L672.00,439.38 L672.72,438.69 L673.44,437.99 L674.16,437.29 L674.88,436.59 L675.60,435.89 L676.31,435.19 L677.03,434.49 L677.75,433.80 L678.47,433.10 L679.19,432.40 L679.91,431.70 L680.63,431.00 L681.35,430.30 L682.06,429.60 L682.78,428.90 L683.50,428.21 L684.22,427.51 L684.94,426.81 L685.66,426.11 L686.38,425.41 L687.10,424.71 L687.81,424.01 L688.53,423.31 L689.25,422.62 L689.97,421.92 L690.69,421.22 L691.41,420.52 L692.13,419.82 L692.84,419.12 L693.56,418.42 L694.28,417.73 L695.00,417.03 L695.72,416.33 L696.44,415.63 L697.16,414.93 L697.88,414.23 L698.59,413.53 L699.31,412.83 L700.03,412.14 L700.75,411.44 L701.47,410.74 L702.19,410.04 L702.91,409.34 L703.63,408.64 L704.34,407.94 L705.06,407.25 L705.78,406.55 L706.50,405.85 L707.22,405.15 L707.94,404.45 L708.66,403.75 L709.38,403.05 L710.09,402.35 L710.81,401.66 L711.53,400.96 L712.25,400.26 L712.97,399.56 L713.69,398.86 L714.41,398.16 L715.12,397.46 L715.84,396.76 L716.56,396.07 L717.28,395.37 L718.00,394.67 L718.72,393.97 L719.44,393.27 L720.16,392.57 L720.87,391.87 L721.59,391.18 L722.31,390.48 L723.03,389.78 L723.75,389.08 L724.47,388.38 L725.19,387.68 L725.91,386.98 L726.62,386.28 L727.34,385.59 L728.06,384.89 L728.78,384.19 L729.50,383.49 L730.22,382.79 L730.94,382.09 L731.66,381.39 L732.37,380.70 L733.09,380.00 L733.81,379.30 L734.53,378.60 L735.25,377.90 L735.97,377.20 L736.69,376.50 L737.40,375.80 L738.12,375.11 L738.84,374.41 L739.56,373.71 L740.28,373.01 L741.00,372.31 L741.72,371.61 L742.44,370.91 L743.15,370.22 L743.87,369.52 L744.59,368.82 L745.31,368.12 L746.03,367.42 L746.75,366.72 L747.47,366.02 L748.19,365.32 L748.90,364.63 L749.62,363.93 L750.34,363.23 L751.06,362.53 L751.78,361.83 L752.50,361.13 L753.22,360.43 L753.93,359.73 L754.65,359.04 L755.37,358.34 L756.09,357.64 L756.81,356.94 L757.53,356.24 L758.25,355.54 L758.97,354.84 L759.68,354.15 L760.40,353.45 L761.12,352.75 L762.20,351.70" fill="none" stroke="#ff6a6a" stroke-width="1.00" stroke-linejoin="round"/>
<circle cx="591.4" cy="451.1" r="1.0" fill="none" stroke="#ff9090" stroke-width="1.0"/>
<circle cx="595.8" cy="444.6" r="1.0" fill="none" stroke="#ff9090" stroke-width="1.0"/>
<circle cx="600.9" cy="439.1" r="1.0" fill="none" stroke="#ff9090" stroke-width="1.0"/>
<circle cx="606.7" cy="434.6" r="1.0" fill="none" stroke="#ff9090" stroke-width="1.0"/>
<circle cx="613.1" cy="431.2" r="1.0" fill="none" stroke="#ff9090" stroke-width="1.0"/>
<circle cx="619.7" cy="429.1" r="1.0" fill="none" stroke="#ff9090" stroke-width="1.0"/>
<circle cx="626.5" cy="428.2" r="1.0" fill="none" stroke="#ff9090" stroke-width="1.0"/>
<circle cx="633.4" cy="428.7" r="1.0" fill="none" stroke="#ff9090" stroke-width="1.0"/>
<circle cx="640.0" cy="430.5" r="1.0" fill="none" stroke="#ff9090" stroke-width="1.0"/>
<circle cx="646.4" cy="433.6" r="1.0" fill="none" stroke="#ff9090" stroke-width="1.0"/>
<circle cx="652.2" cy="437.8" r="1.0" fill="none" stroke="#ff9090" stroke-width="1.0"/>
<circle cx="657.3" cy="443.2" r="1.0" fill="none" stroke="#ff9090" stroke-width="1.0"/>
<circle cx="661.7" cy="449.4" r="1.0" fill="none" stroke="#ff9090" stroke-width="1.0"/>
<circle cx="669.0" cy="440.0" r="1.0" fill="none" stroke="#ff9090" stroke-width="1.0"/>
<circle cx="676.0" cy="432.0" r="1.0" fill="none" stroke="#ff9090" stroke-width="1.0"/>
<circle cx="684.1" cy="425.4" r="1.0" fill="none" stroke="#ff9090" stroke-width="1.0"/>
<circle cx="691.0" cy="419.5" r="1.0" fill="none" stroke="#ff9090" stroke-width="1.0"/>
<circle cx="698.8" cy="413.4" r="1.0" fill="none" stroke="#ff9090" stroke-width="1.0"/>
<circle cx="708.1" cy="405.8" r="1.0" fill="none" stroke="#ff9090" stroke-width="1.0"/>
<circle cx="720.4" cy="398.0" r="1.0" fill="none" stroke="#ff9090" stroke-width="1.0"/>
<circle cx="735.5" cy="390.1" r="1.0" fill="none" stroke="#ff9090" stroke-width="1.0"/>
<circle cx="750.3" cy="379.8" r="1.0" fill="none" stroke="#ff9090" stroke-width="1.0"/>
<circle cx="762.9" cy="363.0" r="1.0" fill="none" stroke="#ff9090" stroke-width="1.0"/>
<path d="M588.20,447.80 L588.70,446.93 L589.20,446.06 L589.70,445.19 L590.22,444.33 L590.75,443.48 L591.30,442.63 L591.85,441.79 L592.41,440.96 L592.99,440.14 L593.57,439.33 L594.17,438.52 L594.78,437.72 L595.40,436.93 L596.03,436.15 L596.67,435.38 L597.33,434.61 L597.99,433.86 L598.67,433.12 L599.35,432.39 L600.05,431.67 L600.76,430.95 L601.48,430.26 L602.21,429.57 L602.95,428.89 L603.71,428.23 L604.47,427.57 L605.25,426.94 L606.03,426.31 L606.83,425.70 L607.63,425.10 L608.45,424.51 L609.27,423.94 L610.11,423.39 L610.96,422.85 L611.81,422.32 L612.68,421.81 L613.55,421.32 L614.44,420.84 L615.33,420.38 L616.23,419.94 L617.14,419.52 L618.06,419.11 L618.98,418.72 L619.92,418.35 L620.86,418.00 L621.81,417.67 L622.76,417.35 L623.72,417.06 L624.68,416.78 L625.66,416.53 L626.63,416.29 L627.61,416.08 L628.60,415.89 L629.59,415.72 L630.58,415.56 L631.58,415.43 L632.57,415.33 L633.57,415.24 L634.58,415.17 L635.58,415.13 L636.58,415.10 L637.59,415.10 L638.59,415.12 L639.59,415.16 L640.60,415.22 L641.60,415.31 L642.59,415.41 L643.59,415.54 L644.58,415.68 L645.57,415.85 L646.56,416.04 L647.54,416.24 L648.52,416.47 L649.49,416.72 L650.46,416.99 L651.42,417.27 L652.38,417.58 L653.33,417.90 L654.27,418.25 L655.21,418.61 L656.14,418.99 L657.06,419.39 L657.98,419.80 L658.88,420.23 L659.78,420.68 L660.67,421.15 L661.55,421.63 L662.43,422.12 L663.29,422.63 L664.14,423.16 L664.99,423.70 L665.83,424.26 L666.65,424.83 L667.47,425.41 L668.28,426.01 L669.07,426.62 L669.86,427.24 L670.64,427.88 L671.41,428.53 L672.16,429.18 L672.91,429.86 L673.65,430.54 L674.37,431.23 L675.09,431.94 L675.79,432.65 L676.49,433.38 L677.17,434.11 L677.85,434.86 L678.51,435.61 L679.16,436.37 L679.80,437.14 L680.44,437.92 L681.06,438.71 L681.97,439.91 L682.56,440.72 L683.15,441.54 L683.72,442.36 L684.29,443.19 L684.84,444.03 L685.38,444.88 L685.91,445.76 L686.42,446.67 L686.92,447.60 L687.42,448.47 L687.94,449.18 L688.49,449.59 L689.09,449.63 L689.75,449.29 L690.44,448.69 L691.15,447.95 L691.87,447.17 L692.58,446.41 L693.30,445.68 L694.00,444.97 L694.71,444.25 L695.42,443.54 L696.13,442.83 L696.84,442.12 L697.54,441.41 L698.25,440.69 L698.96,439.98 L699.67,439.27 L700.38,438.56 L701.08,437.85 L701.79,437.13 L702.50,436.42 L703.21,435.71 L703.92,435.00 L704.62,434.28 L705.33,433.57 L706.04,432.86 L706.75,432.15 L707.46,431.44 L708.16,430.72 L708.87,430.01 L709.58,429.30 L710.29,428.59 L711.00,427.88 L711.71,427.16 L712.41,426.45 L713.12,425.74 L713.83,425.03 L714.54,424.32 L715.25,423.60 L715.95,422.89 L716.66,422.18 L717.37,421.47 L718.08,420.76 L718.79,420.04 L719.49,419.33 L720.20,418.62 L720.91,417.91 L721.62,417.20 L722.33,416.48 L723.03,415.77 L723.74,415.06 L724.45,414.35 L725.16,413.64 L725.87,412.92 L726.57,412.21 L727.28,411.50 L727.99,410.79 L728.70,410.07 L729.41,409.36 L730.12,408.65 L730.82,407.94 L731.53,407.23 L732.24,406.51 L732.95,405.80 L733.66,405.09 L734.36,404.38 L735.07,403.67 L735.78,402.95 L736.49,402.24 L737.20,401.53 L737.90,400.82 L738.61,400.11 L739.32,399.39 L740.03,398.68 L740.74,397.97 L741.44,397.26 L742.15,396.55 L742.86,395.83 L743.57,395.12 L744.28,394.41 L744.98,393.70 L745.69,392.99 L746.40,392.27 L747.11,391.56 L747.82,390.85 L748.52,390.14 L749.23,389.42 L749.94,388.71 L750.65,388.00 L751.36,387.29 L752.07,386.58 L752.77,385.86 L753.48,385.15 L754.19,384.44 L754.90,383.73 L755.61,383.02 L756.31,382.30 L757.02,381.59 L757.73,380.88 L758.44,380.17 L759.50,379.10" fill="none" stroke="#6a6aff" stroke-width="1.00" stroke-linejoin="round"/>
<circle cx="588.2" cy="447.8" r="1.0" fill="none" stroke="#9090ff" stroke-width="1.0"/>
<circle cx="593.5" cy="439.4" r="1.0" fill="none" stroke="#9090ff" stroke-width="1.0"/>
<circle cx="599.6" cy="432.1" r="1.0" fill="none" stroke="#9090ff" stroke-width="1.0"/>
<circle cx="606.4" cy="426.0" r="1.0" fill="none" stroke="#9090ff" stroke-width="1.0"/>
<circle cx="613.9" cy="421.1" r="1.0" fill="none" stroke="#9090ff" stroke-width="1.0"/>
<circle cx="621.8" cy="417.7" r="1.0" fill="none" stroke="#9090ff" stroke-width="1.0"/>
<circle cx="630.0" cy="415.6" r="1.0" fill="none" stroke="#9090ff" stroke-width="1.0"/>
<circle cx="638.4" cy="415.1" r="1.0" fill="none" stroke="#9090ff" stroke-width="1.0"/>
<circle cx="646.8" cy="416.1" r="1.0" fill="none" stroke="#9090ff" stroke-width="1.0"/>
<circle cx="655.0" cy="418.5" r="1.0" fill="none" stroke="#9090ff" stroke-width="1.0"/>
<circle cx="662.9" cy="422.4" r="1.0" fill="none" stroke="#9090ff" stroke-width="1.0"/>
<circle cx="670.4" cy="427.6" r="1.0" fill="none" stroke="#9090ff" stroke-width="1.0"/>
<circle cx="677.2" cy="434.1" r="1.0" fill="none" stroke="#9090ff" stroke-width="1.0"/>
<circle cx="683.3" cy="441.8" r="1.0" fill="none" stroke="#9090ff" stroke-width="1.0"/>
<circle cx="688.6" cy="450.4" r="1.0" fill="none" stroke="#9090ff" stroke-width="1.0"/>
<circle cx="681.7" cy="437.4" r="1.0" fill="none" stroke="#9090ff" stroke-width="1.0"/>
<circle cx="685.1" cy="445.9" r="1.0" fill="none" stroke="#9090ff" stroke-width="1.0"/>
<circle cx="689.6" cy="442.5" r="1.0" fill="none" stroke="#9090ff" stroke-width="1.0"/>
<circle cx="694.4" cy="438.0" r="1.0" fill="none" stroke="#9090ff" stroke-width="1.0"/>
<circle cx="700.6" cy="434.6" r="1.0" fill="none" stroke="#9090ff" stroke-width="1.0"/>
<circle cx="705.7" cy="431.2" r="1.0" fill="none" stroke="#9090ff" stroke-width="1.0"/>
<circle cx="710.8" cy="427.1" r="1.0" fill="none" stroke="#9090ff" stroke-width="1.0"/>
<circle cx="717.0" cy="421.9" r="1.0" fill="none" stroke="#9090ff" stroke-width="1.0"/>
<circle cx="723.9" cy="415.1" r="1.0" fill="none" stroke="#9090ff" stroke-width="1.0"/>
<circle cx="731.4" cy="403.1" r="1.0" fill="none" stroke="#9090ff" stroke-width="1.0"/>
<circle cx="740.0" cy="389.4" r="1.0" fill="none" stroke="#9090ff" stroke-width="1.0"/>
<circle cx="751.3" cy="369.5" r="1.0" fill="none" stroke="#9090ff" stroke-width="1.0"/>
<rect x="217.9" y="245.2" width="44.1" height="61.7" rx="2" fill="#ffffff" fill-opacity="0.8" stroke="#ececec" stroke-width="1"/>
<ellipse cx="229.0" cy="252.6" rx="2.5" ry="2.8" fill="none" stroke="#8080ff" stroke-width="0.8"/>
<text x="243.5" y="255.6" font-size="9.20" text-anchor="start" fill="#262626" stroke="#262626" stroke-width="0.00" >1</text>
<ellipse cx="229.0" cy="264.5" rx="2.5" ry="2.8" fill="none" stroke="#ff8080" stroke-width="0.8"/>
<text x="243.5" y="267.5" font-size="9.20" text-anchor="start" fill="#262626" stroke="#262626" stroke-width="0.00" >50</text>
<ellipse cx="229.0" cy="276.5" rx="2.5" ry="2.8" fill="none" stroke="#80c080" stroke-width="0.8"/>
<text x="243.5" y="279.5" font-size="9.20" text-anchor="start" fill="#262626" stroke="#262626" stroke-width="0.00" >100</text>
<ellipse cx="229.0" cy="288.2" rx="2.5" ry="2.8" fill="none" stroke="#808080" stroke-width="0.8"/>
<text x="243.5" y="291.2" font-size="9.20" text-anchor="start" fill="#262626" stroke="#262626" stroke-width="0.00" >150</text>
<ellipse cx="229.0" cy="300.0" rx="2.5" ry="2.8" fill="none" stroke="#80e0e0" stroke-width="0.8"/>
<text x="243.5" y="303.0" font-size="9.20" text-anchor="start" fill="#262626" stroke="#262626" stroke-width="0.00" >200</text>
<rect x="487.6" y="242.3" width="43.8" height="62.0" rx="2" fill="#ffffff" fill-opacity="0.8" stroke="#ececec" stroke-width="1"/>
<ellipse cx="498.4" cy="249.9" rx="2.5" ry="2.8" fill="none" stroke="#8080ff" stroke-width="0.8"/>
<text x="513.0" y="252.9" font-size="9.20" text-anchor="start" fill="#262626" stroke="#262626" stroke-width="0.00" >1</text>
<ellipse cx="498.4" cy="261.7" rx="2.5" ry="2.8" fill="none" stroke="#ff8080" stroke-width="0.8"/>
<text x="513.0" y="264.7" font-size="9.20" text-anchor="start" fill="#262626" stroke="#262626" stroke-width="0.00" >50</text>
<ellipse cx="498.4" cy="273.9" rx="2.5" ry="2.8" fill="none" stroke="#80c080" stroke-width="0.8"/>
<text x="513.0" y="276.9" font-size="9.20" text-anchor="start" fill="#262626" stroke="#262626" stroke-width="0.00" >100</text>
<ellipse cx="498.4" cy="285.8" rx="2.5" ry="2.8" fill="none" stroke="#808080" stroke-width="0.8"/>
<text x="513.0" y="288.8" font-size="9.20" text-anchor="start" fill="#262626" stroke="#262626" stroke-width="0.00" >150</text>
<ellipse cx="498.4" cy="298.0" rx="2.5" ry="2.8" fill="none" stroke="#80e0e0" stroke-width="0.8"/>
<text x="513.0" y="301.0" font-size="9.20" text-anchor="start" fill="#262626" stroke="#262626" stroke-width="0.00" >200</text>
<rect x="739.3" y="245.2" width="43.8" height="62.0" rx="2" fill="#ffffff" fill-opacity="0.8" stroke="#ececec" stroke-width="1"/>
<ellipse cx="750.4" cy="252.6" rx="2.5" ry="2.8" fill="none" stroke="#8080ff" stroke-width="0.8"/>
<text x="764.9" y="255.6" font-size="9.20" text-anchor="start" fill="#262626" stroke="#262626" stroke-width="0.00" >1</text>
<ellipse cx="750.4" cy="264.5" rx="2.5" ry="2.8" fill="none" stroke="#ff8080" stroke-width="0.8"/>
<text x="764.9" y="267.5" font-size="9.20" text-anchor="start" fill="#262626" stroke="#262626" stroke-width="0.00" >50</text>
<ellipse cx="750.4" cy="276.5" rx="2.5" ry="2.8" fill="none" stroke="#80c080" stroke-width="0.8"/>
<text x="764.9" y="279.5" font-size="9.20" text-anchor="start" fill="#262626" stroke="#262626" stroke-width="0.00" >100</text>
<ellipse cx="750.4" cy="288.2" rx="2.5" ry="2.8" fill="none" stroke="#808080" stroke-width="0.8"/>
<text x="764.9" y="291.2" font-size="9.20" text-anchor="start" fill="#262626" stroke="#262626" stroke-width="0.00" >150</text>
<ellipse cx="750.4" cy="300.0" rx="2.5" ry="2.8" fill="none" stroke="#80e0e0" stroke-width="0.8"/>
<text x="764.9" y="303.0" font-size="9.20" text-anchor="start" fill="#262626" stroke="#262626" stroke-width="0.00" >200</text>
<text transform="translate(21.2,389.3) rotate(-90) scale(0.965,1)" font-size="17.2" fill="#000">-Im(Z)/Ohm</text>
<text x="381.9" y="495.7" font-size="16.1" fill="#000">Re(Z)/Ohm</text>
</svg></body></html>
